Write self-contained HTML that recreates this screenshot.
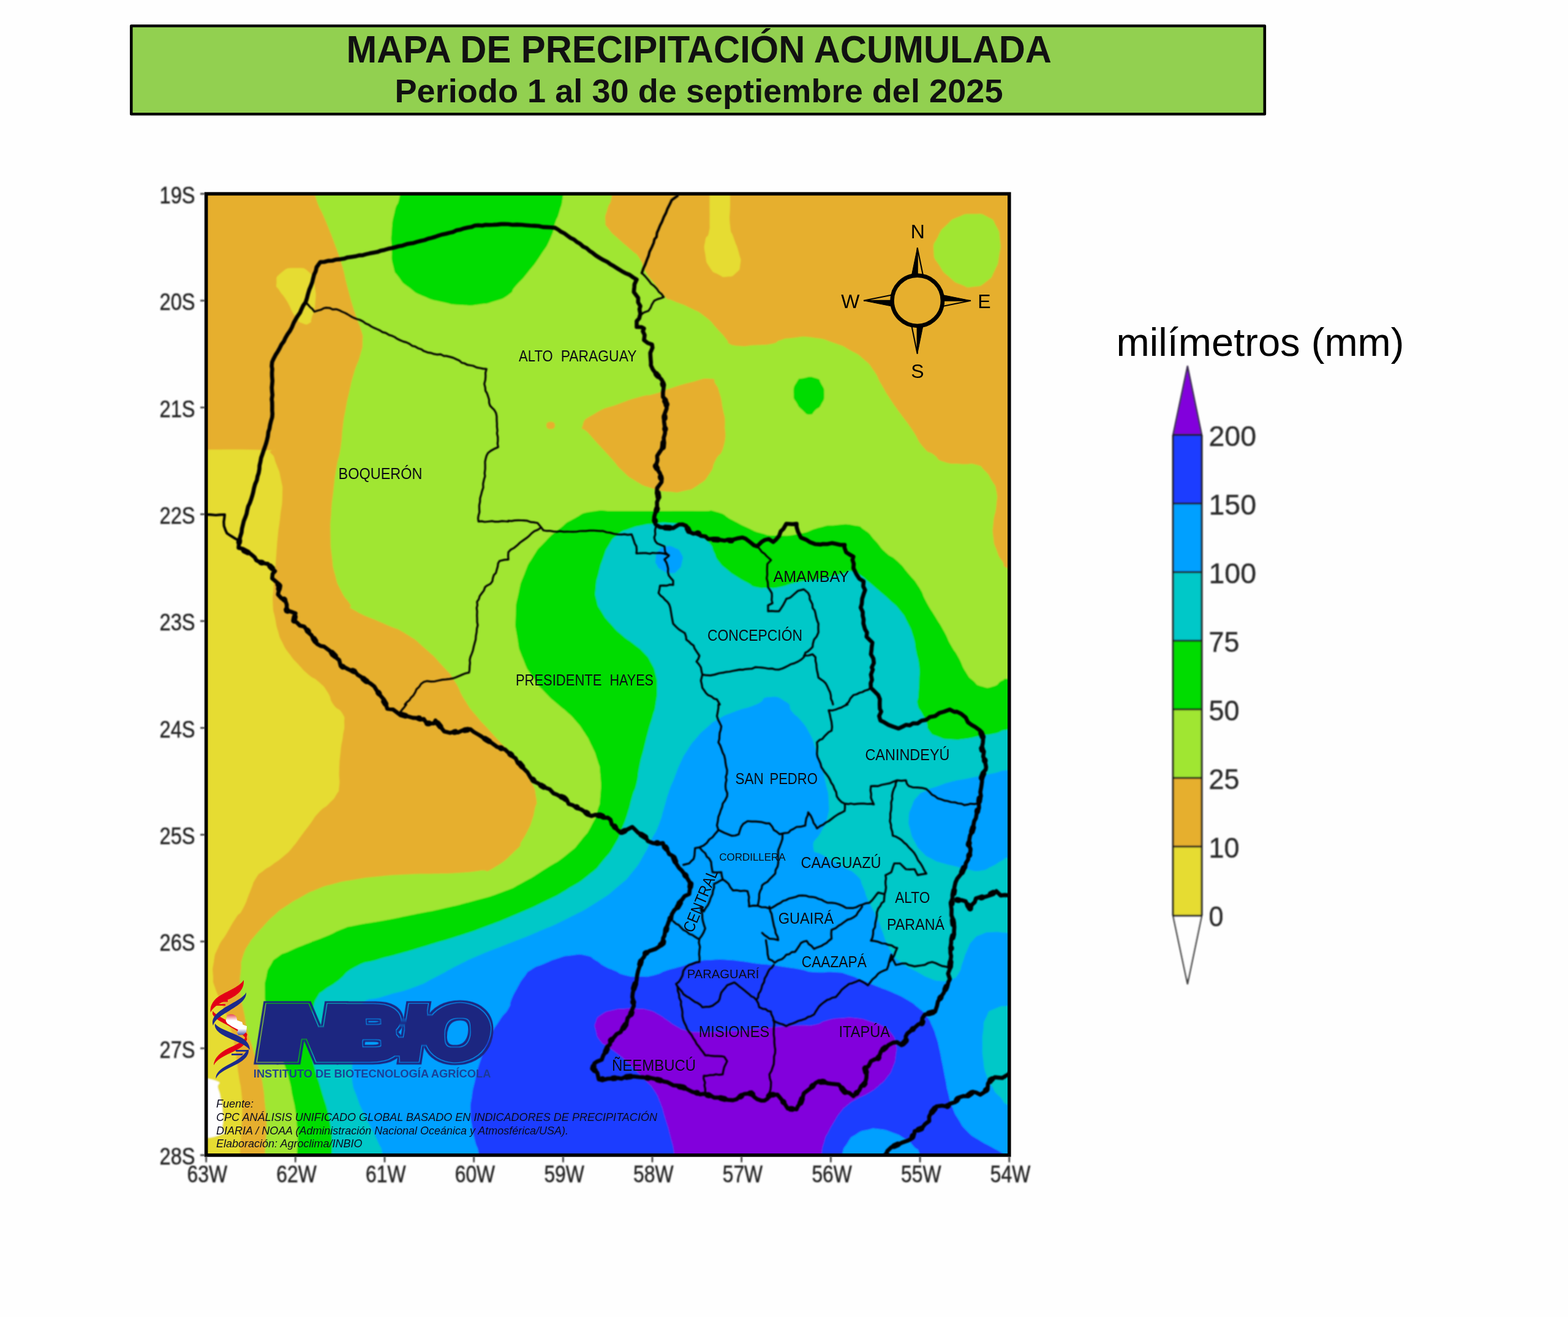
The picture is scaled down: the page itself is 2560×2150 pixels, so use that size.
<!DOCTYPE html>
<html lang="es"><head><meta charset="utf-8"><title>Mapa de precipitación acumulada</title>
<style>html,body{margin:0;padding:0;background:#fefefe}body{width:2560px;height:2150px;overflow:hidden}svg{display:block}text{font-family:"Liberation Sans",Arial,sans-serif}</style></head><body>
<svg width="2560" height="2150" viewBox="0 0 2560 2150">
<defs>
<clipPath id="mc"><rect x="336.6" y="316.4" width="1311.2" height="1569.4"/></clipPath>
<filter id="b1" x="-5%" y="-5%" width="110%" height="110%"><feGaussianBlur stdDeviation="1.1"/></filter>
<filter id="b2" x="-20%" y="-20%" width="140%" height="140%"><feGaussianBlur stdDeviation="0.8"/></filter>
<filter id="b3" x="-20%" y="-20%" width="140%" height="140%"><feGaussianBlur stdDeviation="1.0"/></filter>
<filter id="b4" x="-10%" y="-10%" width="120%" height="120%"><feGaussianBlur stdDeviation="4"/></filter>
<linearGradient id="pyg" x1="0" y1="0" x2="0" y2="1"><stop offset="0" stop-color="#e8464f"/><stop offset="0.3" stop-color="#fff"/><stop offset="0.7" stop-color="#fff"/><stop offset="1" stop-color="#4a55a8"/></linearGradient>
<filter id="lg" x="-5%" y="-15%" width="110%" height="130%"><feMorphology in="SourceAlpha" operator="erode" radius="2.5" result="e1"/><feMorphology in="SourceAlpha" operator="erode" radius="4" result="e2"/><feComposite in="SourceAlpha" in2="e1" operator="out" result="ring"/><feMerge result="shape"><feMergeNode in="ring"/><feMergeNode in="e2"/></feMerge><feFlood flood-color="#1b2580" result="col"/><feComposite in="col" in2="shape" operator="in" result="c2"/><feGaussianBlur in="c2" stdDeviation="0.35"/></filter>
</defs>
<rect width="2560" height="2150" fill="#fefefe"/>
<rect x="214.3" y="42.3" width="1850.5" height="144" fill="#92d050" stroke="#000" stroke-width="4.6" stroke-linejoin="round"/>
<text x="1141.2" y="101.9" font-size="63" font-weight="700" text-anchor="middle" fill="#111" textLength="1151.5" lengthAdjust="spacingAndGlyphs">MAPA DE PRECIPITACIÓN ACUMULADA</text>
<text x="1141" y="167.4" font-size="54.3" font-weight="700" text-anchor="middle" fill="#111" textLength="993" lengthAdjust="spacingAndGlyphs">Periodo 1 al 30 de septiembre del 2025</text>
<g clip-path="url(#mc)">
<g filter="url(#b1)">
<rect x="300" y="280" width="1400" height="1650" fill="#e6af2d"/>
<path fill="#e6dc32" d="M300.0 734.5 C342.2 734.5 379.4 732.8 426.7 734.5 C474.0 736.2 433.7 731.5 441.9 739.5 C450.1 747.5 445.8 744.3 451.4 758.6 C457.0 772.9 455.4 765.7 458.6 782.4 C461.8 799.1 461.4 788.0 461.0 808.6 C460.6 829.2 459.8 822.9 457.4 844.3 C455.0 865.7 455.8 853.9 453.8 872.9 C451.8 891.9 453.0 881.6 451.4 901.4 C449.8 921.2 450.6 913.3 449.0 932.4 C447.4 951.5 447.9 940.4 446.7 958.6 C445.5 976.8 444.7 970.4 445.5 987.1 C446.3 1003.8 446.2 994.3 449.0 1008.6 C451.8 1022.9 449.8 1016.5 453.8 1030.0 C457.8 1043.5 454.6 1036.3 461.0 1049.0 C467.4 1061.7 464.2 1056.2 472.9 1068.1 C481.6 1080.0 476.8 1073.7 487.1 1084.8 C497.4 1095.9 492.7 1091.9 503.8 1101.4 C514.9 1110.9 510.2 1103.8 520.5 1113.3 C530.8 1122.8 526.9 1117.8 534.8 1130.0 C542.7 1142.2 536.4 1138.6 544.3 1150.0 C552.2 1161.4 552.7 1154.0 558.6 1164.3 C564.5 1174.6 561.7 1168.3 562.1 1181.0 C562.5 1193.7 561.8 1187.3 559.8 1202.4 C557.8 1217.5 558.2 1208.0 556.2 1226.2 C554.2 1244.4 554.6 1238.1 553.8 1257.1 C553.0 1276.1 555.4 1269.8 553.8 1283.3 C552.2 1296.8 554.6 1288.1 549.0 1297.6 C543.4 1307.1 546.6 1302.4 537.1 1311.9 C527.6 1321.4 530.8 1315.1 520.5 1326.2 C510.2 1337.3 515.7 1332.5 506.2 1345.2 C496.7 1357.9 501.4 1351.6 491.9 1364.3 C482.4 1377.0 487.1 1372.2 477.6 1383.3 C468.1 1394.4 474.4 1388.1 463.3 1397.6 C452.2 1407.1 455.4 1404.0 444.3 1411.9 C433.2 1419.8 438.7 1414.3 430.0 1421.4 C421.3 1428.5 425.2 1422.2 418.1 1433.3 C411.0 1444.4 415.7 1438.1 408.6 1454.8 C401.5 1471.5 404.6 1468.6 396.7 1483.3 C388.8 1498.0 393.5 1485.8 384.8 1499.0 C376.1 1512.2 380.0 1507.0 370.5 1522.9 C361.0 1538.8 363.4 1530.8 356.2 1546.7 C349.0 1562.6 351.8 1554.6 349.0 1570.5 C346.2 1586.4 347.1 1580.0 347.9 1594.3 C348.7 1608.6 345.5 1595.8 351.4 1613.3 C357.3 1630.8 357.0 1623.7 365.7 1646.7 C374.4 1669.7 371.2 1658.6 377.6 1682.4 C384.0 1706.2 380.8 1694.3 384.8 1718.1 C388.8 1741.9 386.3 1731.6 389.5 1753.8 C392.7 1776.0 392.3 1765.0 394.3 1784.8 C396.3 1804.6 395.5 1795.9 395.5 1813.3 C395.5 1830.7 395.1 1821.2 394.3 1837.1 C393.5 1853.0 393.9 1843.5 393.1 1861.0 C392.3 1878.5 392.3 1866.5 391.9 1889.5 C391.5 1912.5 392.0 1916.5 392.0 1930.0 L300.0 1930.0Z"/>
<path fill="#e6dc32" d="M451.4 462.4 C452.2 452.9 448.3 454.0 458.6 445.7 C468.9 437.4 466.5 437.4 482.4 437.4 C498.3 437.4 495.9 436.6 506.2 445.7 C516.5 454.8 510.5 448.1 513.3 464.8 C516.1 481.5 516.1 477.5 514.5 495.7 C512.9 513.9 511.4 509.2 508.6 519.5 C505.8 529.8 511.0 523.9 506.2 526.7 C501.4 529.5 502.2 531.1 494.3 527.9 C486.4 524.7 491.1 529.4 482.4 517.1 C473.7 504.8 476.8 505.3 468.1 491.0 C459.4 476.7 461.8 483.8 456.2 474.3 C450.6 464.8 450.6 471.9 451.4 462.4Z"/>
<path fill="#e6dc32" d="M1192.0 280.0 C1192.0 296.7 1192.0 301.0 1192.0 330.0 C1192.0 359.0 1189.9 347.6 1191.9 367.1 C1193.9 386.6 1193.1 373.5 1197.9 388.6 C1202.7 403.7 1202.6 398.1 1206.2 412.4 C1209.8 426.7 1210.2 420.3 1208.6 431.4 C1207.0 442.5 1208.6 438.9 1201.4 445.7 C1194.2 452.5 1196.6 450.9 1187.1 451.7 C1177.6 452.5 1182.4 453.3 1172.9 448.1 C1163.4 442.9 1165.8 447.3 1158.6 436.2 C1151.4 425.1 1153.8 429.1 1151.4 414.8 C1149.0 400.5 1149.4 405.2 1151.4 393.3 C1153.4 381.4 1155.0 390.9 1157.4 379.0 C1159.8 367.1 1158.2 373.9 1158.6 357.6 C1159.0 341.3 1158.5 355.9 1158.5 330.0 C1158.5 304.1 1158.5 296.7 1158.5 280.0Z"/>
<path fill="#a0e632" d="M506.5 280.0 C509.2 293.2 505.9 292.0 514.5 319.5 C523.1 347.0 520.9 333.8 532.4 362.4 C543.9 391.0 540.3 381.4 549.0 405.2 C557.7 429.0 552.2 411.6 558.6 433.8 C565.0 456.0 561.0 445.7 568.1 471.9 C575.2 498.1 572.9 490.2 580.0 512.4 C587.1 534.6 585.5 523.5 589.5 538.6 C593.5 553.7 592.3 544.1 591.9 557.6 C591.5 571.1 593.1 561.5 588.3 579.0 C583.5 596.5 583.5 590.1 577.6 610.0 C571.7 629.9 574.9 619.6 570.5 638.6 C566.1 657.6 568.1 648.1 564.5 667.1 C560.9 686.1 562.6 674.7 559.8 695.7 C557.0 716.7 559.8 706.7 556.2 730.0 C552.6 753.3 553.0 741.9 549.0 765.7 C545.0 789.5 547.1 777.6 544.3 801.4 C541.5 825.2 542.3 813.3 540.7 837.1 C539.1 860.9 539.1 849.1 539.5 872.9 C539.9 896.7 539.5 887.2 541.9 908.6 C544.3 930.0 541.9 918.9 546.7 937.1 C551.5 955.3 548.3 947.4 556.2 963.3 C564.1 979.2 562.6 973.5 570.5 984.8 C578.4 996.1 561.0 985.8 580.0 997.1 C599.0 1008.4 599.8 1005.9 627.6 1018.6 C655.4 1031.3 641.1 1021.7 663.3 1035.2 C685.5 1048.7 674.4 1041.5 694.3 1059.0 C714.2 1076.5 707.0 1070.1 722.9 1087.6 C738.8 1105.1 730.0 1093.1 741.9 1111.4 C753.8 1129.7 746.7 1123.3 758.6 1142.4 C770.5 1161.5 764.1 1151.9 777.6 1168.6 C791.1 1185.3 783.1 1174.9 799.0 1192.4 C814.9 1209.9 809.3 1203.5 825.2 1221.0 C841.1 1238.5 833.2 1227.4 846.7 1244.8 C860.2 1262.2 856.2 1254.3 865.7 1273.3 C875.2 1292.3 872.8 1285.9 875.2 1301.9 C877.6 1317.9 875.3 1308.5 872.9 1321.4 C870.5 1334.3 872.1 1328.6 868.1 1340.5 C864.1 1352.4 866.6 1346.0 861.0 1357.1 C855.4 1368.2 857.8 1363.5 851.4 1373.8 C845.0 1384.1 857.0 1373.8 841.9 1388.1 C826.8 1402.4 826.0 1405.6 806.2 1416.7 C786.4 1427.8 802.2 1418.6 782.4 1421.4 C762.6 1424.2 770.5 1423.4 746.7 1425.0 C722.9 1426.6 738.8 1425.4 711.0 1426.2 C683.2 1427.0 695.1 1425.8 663.3 1427.4 C631.5 1429.0 643.5 1428.2 615.7 1431.0 C587.9 1433.8 603.8 1431.7 580.0 1435.7 C556.2 1439.7 565.7 1437.3 544.3 1442.9 C522.9 1448.5 533.2 1445.3 515.7 1452.4 C498.2 1459.5 507.8 1455.6 491.9 1464.3 C476.0 1473.0 482.4 1469.1 468.1 1478.6 C453.8 1488.1 461.7 1481.8 449.0 1492.9 C436.3 1504.0 441.9 1499.2 430.0 1511.9 C418.1 1524.6 420.4 1522.6 413.3 1531.0 C406.2 1539.4 414.1 1527.1 408.6 1537.1 C403.1 1547.1 401.9 1545.1 396.7 1561.0 C391.5 1576.9 394.7 1568.9 393.1 1584.8 C391.5 1600.7 391.5 1592.7 391.9 1608.6 C392.3 1624.5 391.9 1616.5 394.3 1632.4 C396.7 1648.3 395.8 1639.5 399.0 1656.2 C402.2 1672.9 399.8 1665.7 403.8 1682.4 C407.8 1699.1 406.2 1690.3 411.0 1706.2 C415.8 1722.1 413.4 1714.1 418.1 1730.0 C422.8 1745.9 421.2 1737.9 425.2 1753.8 C429.2 1769.7 427.6 1761.7 430.0 1777.6 C432.4 1793.5 430.8 1785.5 432.4 1801.4 C434.0 1817.3 434.0 1809.3 434.8 1825.2 C435.6 1841.1 435.6 1827.6 434.8 1849.0 C434.0 1870.4 433.3 1862.5 432.4 1889.5 C431.5 1916.5 432.1 1916.5 432.0 1930.0 L1700 1930 L1700.0 945.0 C1683.5 940.0 1671.8 939.8 1650.5 930.0 C1629.2 920.2 1644.1 926.8 1636.2 915.7 C1628.3 904.6 1631.5 909.4 1626.7 896.7 C1621.9 884.0 1623.5 891.9 1621.9 877.6 C1620.3 863.3 1620.3 871.3 1621.9 853.8 C1623.5 836.3 1625.1 842.7 1626.7 825.2 C1628.3 807.7 1629.1 814.9 1626.7 801.4 C1624.3 787.9 1625.9 795.9 1619.5 784.8 C1613.1 773.7 1616.3 776.8 1607.6 768.1 C1598.9 759.4 1606.0 762.2 1593.3 758.6 C1580.6 755.0 1586.9 759.0 1569.5 757.4 C1552.1 755.8 1556.1 759.0 1541.0 753.8 C1525.9 748.6 1535.4 749.8 1524.3 741.9 C1513.2 734.0 1519.5 743.8 1507.6 730.0 C1495.7 716.2 1501.3 719.1 1488.6 700.5 C1475.9 681.9 1481.4 691.0 1469.5 674.3 C1457.6 657.6 1463.2 666.4 1452.9 650.5 C1442.6 634.6 1447.3 641.8 1438.6 626.7 C1429.9 611.6 1436.2 618.7 1426.7 605.2 C1417.2 591.7 1422.7 597.3 1410.0 586.2 C1397.3 575.1 1404.5 580.6 1388.6 571.9 C1372.7 563.2 1383.0 567.0 1362.4 560.0 C1341.8 553.0 1349.7 553.8 1326.7 551.0 C1303.7 548.2 1310.8 550.3 1293.3 551.7 C1275.8 553.1 1285.4 552.0 1274.3 555.2 C1263.2 558.4 1274.3 558.4 1260.0 561.2 C1245.7 564.0 1248.9 562.4 1231.4 563.6 C1213.9 564.8 1221.9 566.0 1207.6 564.8 C1193.3 563.6 1195.4 563.2 1188.6 560.0 C1181.8 556.8 1193.1 563.1 1187.1 555.2 C1181.1 547.3 1182.4 548.9 1170.5 536.2 C1158.6 523.5 1165.7 528.2 1151.4 517.1 C1137.1 506.0 1145.1 511.6 1127.6 502.9 C1110.1 494.2 1113.3 497.4 1099.0 491.0 C1084.7 484.6 1095.1 493.3 1084.8 483.8 C1074.5 474.3 1078.4 475.9 1068.1 462.4 C1057.8 448.9 1061.7 456.8 1053.8 443.3 C1045.9 429.8 1052.2 433.8 1044.3 421.9 C1036.4 410.0 1041.1 417.9 1030.0 407.6 C1018.9 397.3 1022.9 402.1 1011.0 391.0 C999.1 379.9 1001.9 384.6 994.3 374.3 C986.7 364.0 989.1 371.1 988.3 360.0 C987.5 348.9 988.3 354.5 991.9 341.0 C995.5 327.5 995.6 339.8 999.0 319.5 C1002.4 299.2 1001.0 293.2 1002.0 280.0Z"/>
<path fill="#a0e632" d="M1524.3 410.0 C1523.5 394.1 1524.3 400.5 1531.4 386.2 C1538.5 371.9 1534.6 377.8 1545.7 367.1 C1556.8 356.4 1550.5 359.9 1564.8 354.0 C1579.1 348.1 1572.7 349.3 1588.6 349.3 C1604.5 349.3 1599.7 347.3 1612.4 354.0 C1625.1 360.7 1620.0 357.2 1626.7 369.5 C1633.4 381.8 1631.0 375.1 1632.6 391.0 C1634.2 406.9 1634.2 400.4 1631.4 417.1 C1628.6 433.8 1631.4 426.7 1624.3 441.0 C1617.2 455.3 1621.9 450.9 1610.0 460.0 C1598.1 469.1 1602.1 466.7 1588.6 468.3 C1575.1 469.9 1582.2 469.9 1569.5 464.8 C1556.8 459.7 1562.4 463.2 1550.5 452.9 C1538.6 442.6 1542.5 448.1 1533.8 433.8 C1525.1 419.5 1525.1 425.9 1524.3 410.0Z"/>
<path fill="#e6af2d" d="M963.3 710.0 C948.2 692.6 948.2 706.4 951.4 694.5 C954.6 682.6 953.8 685.8 972.9 674.3 C992.0 662.8 984.8 668.7 1008.6 660.0 C1032.4 651.3 1024.5 653.7 1044.3 648.1 C1064.1 642.5 1052.2 647.7 1068.1 643.3 C1084.0 638.9 1072.1 641.3 1091.9 635.0 C1111.7 628.7 1105.4 629.9 1127.6 624.3 C1149.8 618.7 1145.1 617.5 1158.6 618.3 C1172.1 619.1 1162.6 618.4 1168.1 626.7 C1173.6 635.0 1171.2 629.8 1175.2 643.3 C1179.2 656.8 1177.2 651.2 1180.0 667.1 C1182.8 683.0 1183.6 675.1 1183.6 691.0 C1183.6 706.9 1180.0 711.8 1180.0 714.8 C1180.0 717.8 1183.3 694.9 1183.6 700.0 C1183.9 705.1 1186.2 712.9 1181.0 730.0 C1175.8 747.1 1175.6 737.1 1168.1 751.4 C1160.6 765.7 1168.1 759.4 1158.6 772.9 C1149.1 786.4 1153.8 782.4 1139.5 791.9 C1125.2 801.4 1131.6 797.8 1115.7 801.4 C1099.8 805.0 1109.4 804.2 1091.9 802.6 C1074.4 801.0 1081.6 802.6 1063.3 796.7 C1045.0 790.8 1053.0 794.3 1037.1 784.8 C1021.2 775.3 1029.2 780.8 1015.7 768.1 C1002.2 755.4 1014.2 766.1 996.7 746.7 C979.2 727.3 978.4 727.4 963.3 710.0Z"/>
<path fill="#e6af2d" d="M892.0 694.5 C892.0 690.5 894.3 688.5 899.0 688.5 C903.7 688.5 906.0 690.5 906.0 694.5 C906.0 698.5 903.7 700.5 899.0 700.5 C894.3 700.5 892.0 698.5 892.0 694.5Z"/>
<path fill="#00dc00" d="M656.6 280.0 C655.3 293.2 656.7 297.6 652.6 319.5 C648.5 341.4 648.7 326.6 644.3 345.7 C639.9 364.8 641.1 356.9 639.5 376.7 C637.9 396.5 638.7 386.2 639.5 405.2 C640.3 424.2 637.9 417.9 641.9 433.8 C645.9 449.7 642.7 441.0 651.4 452.9 C660.1 464.8 654.6 459.2 668.1 469.5 C681.6 479.8 673.6 475.9 691.9 483.8 C710.2 491.7 702.3 488.5 722.9 493.3 C743.5 498.1 734.0 496.9 753.8 498.1 C773.6 499.3 764.9 498.9 782.4 496.9 C799.9 494.9 790.3 497.3 806.2 492.1 C822.1 486.9 818.1 489.7 830.0 481.4 C841.9 473.1 831.6 479.0 841.9 467.1 C852.2 455.2 847.5 462.4 861.0 445.7 C874.5 429.0 869.7 436.1 882.4 417.1 C895.1 398.1 891.1 406.0 899.0 388.6 C906.9 371.2 901.4 379.1 906.2 364.8 C911.0 350.5 908.9 360.8 913.3 345.7 C917.7 330.6 916.0 341.4 919.3 319.5 C922.6 297.6 922.0 293.2 923.3 280.0Z"/>
<path fill="#00dc00" d="M1295.7 643.3 C1295.7 632.2 1294.9 633.0 1300.5 624.3 C1306.1 615.6 1302.1 619.5 1312.4 617.1 C1322.7 614.7 1321.9 613.9 1331.4 617.1 C1340.9 620.3 1336.2 618.0 1341.0 626.7 C1345.8 635.4 1345.7 632.2 1345.7 643.3 C1345.7 654.4 1345.8 651.3 1341.0 660.0 C1336.2 668.7 1337.8 663.9 1331.4 669.5 C1325.0 675.1 1329.0 676.7 1321.9 676.7 C1314.8 676.7 1317.1 675.9 1310.0 669.5 C1302.9 663.1 1305.3 666.3 1300.5 657.6 C1295.7 648.9 1295.7 654.4 1295.7 643.3Z"/>
<path fill="#00dc00" d="M485.0 1930.0 C484.9 1916.5 484.5 1912.5 484.8 1889.5 C485.1 1866.5 486.0 1878.5 486.0 1861.0 C486.0 1843.5 486.0 1853.0 484.8 1837.1 C483.6 1821.2 484.8 1829.2 482.4 1813.3 C480.0 1797.4 480.8 1805.4 477.6 1789.5 C474.4 1773.6 476.9 1781.6 472.9 1765.7 C468.9 1749.8 471.3 1757.8 465.7 1741.9 C460.1 1726.0 462.5 1734.0 456.2 1718.1 C449.9 1702.2 452.3 1710.2 446.7 1694.3 C441.1 1678.4 443.5 1686.4 439.5 1670.5 C435.5 1654.6 437.2 1664.2 434.8 1646.7 C432.4 1629.2 432.4 1635.6 432.4 1618.1 C432.4 1600.6 431.6 1608.6 434.8 1594.3 C438.0 1580.0 435.6 1586.0 441.9 1575.2 C448.2 1564.4 443.5 1569.5 453.8 1561.9 C464.1 1554.3 457.0 1559.5 472.9 1552.4 C488.8 1545.3 481.6 1548.4 501.4 1540.5 C521.2 1532.6 513.3 1536.5 532.4 1528.6 C551.5 1520.7 542.7 1522.7 558.6 1516.7 C574.5 1510.7 557.0 1515.5 580.0 1510.7 C603.0 1505.9 595.9 1508.3 627.6 1502.4 C659.3 1496.5 643.4 1499.3 675.2 1492.9 C707.0 1486.5 691.1 1490.5 722.9 1483.3 C754.7 1476.1 738.8 1480.2 770.5 1471.4 C802.2 1462.6 790.2 1467.3 818.0 1457.0 C845.8 1446.7 830.0 1453.2 853.8 1440.5 C877.6 1427.8 865.7 1434.1 889.5 1419.0 C913.3 1403.9 905.4 1411.1 925.2 1395.2 C945.0 1379.3 935.5 1387.3 949.0 1371.4 C962.5 1355.5 957.0 1363.5 965.7 1347.6 C974.4 1331.7 970.4 1339.7 975.2 1323.8 C980.0 1307.9 978.4 1319.8 980.0 1300.0 C981.6 1280.2 981.6 1284.1 980.0 1264.3 C978.4 1244.5 980.0 1256.4 975.2 1240.5 C970.4 1224.6 972.8 1231.8 965.7 1216.7 C958.6 1201.6 962.5 1208.7 953.8 1195.2 C945.1 1181.7 949.0 1187.3 939.5 1176.2 C930.0 1165.1 934.7 1170.6 925.2 1161.9 C915.7 1153.2 922.9 1160.6 911.0 1150.0 C899.1 1139.4 903.0 1144.6 889.5 1130.0 C876.0 1115.4 882.4 1124.5 870.5 1106.2 C858.6 1087.9 862.5 1097.4 853.8 1075.2 C845.1 1053.0 848.3 1063.3 844.3 1039.5 C840.3 1015.7 841.1 1027.6 841.9 1003.8 C842.7 980.0 841.9 990.3 846.7 968.1 C851.5 945.9 848.3 956.9 856.2 937.1 C864.1 917.3 859.4 926.0 870.5 908.6 C881.6 891.2 875.2 899.9 889.5 884.8 C903.8 869.7 897.4 876.0 913.3 863.3 C929.2 850.6 918.8 856.2 937.1 846.7 C955.4 837.2 944.3 838.9 968.1 834.8 C991.9 830.7 975.3 834.5 1008.6 834.3 C1041.9 834.1 1024.5 834.3 1068.1 834.3 C1111.7 834.3 1105.5 833.8 1139.5 834.3 C1173.5 834.8 1151.3 830.8 1170.0 835.7 C1188.7 840.6 1179.2 840.6 1195.7 849.0 C1212.2 857.4 1203.6 853.8 1219.5 861.0 C1235.4 868.2 1227.4 866.2 1243.3 870.5 C1259.2 874.8 1247.2 873.6 1267.1 874.0 C1287.0 874.4 1279.1 876.0 1302.9 871.7 C1326.7 867.4 1318.8 865.8 1338.6 861.0 C1358.4 856.2 1344.2 858.6 1362.4 857.4 C1380.6 856.2 1376.6 854.6 1393.3 857.4 C1410.0 860.2 1400.5 857.4 1412.4 865.7 C1424.3 874.0 1417.9 870.5 1429.0 882.4 C1440.1 894.3 1433.8 890.3 1445.7 901.4 C1457.6 912.5 1452.1 903.8 1464.8 915.7 C1477.5 927.6 1471.9 922.8 1483.8 937.1 C1495.7 951.4 1491.0 943.5 1500.5 958.6 C1510.0 973.7 1503.7 966.5 1512.4 982.4 C1521.1 998.3 1517.2 990.3 1526.7 1006.2 C1536.2 1022.1 1532.3 1014.1 1541.0 1030.0 C1549.7 1045.9 1545.0 1039.5 1552.9 1053.8 C1560.8 1068.1 1556.9 1058.6 1564.8 1072.9 C1572.7 1087.2 1568.8 1084.0 1576.7 1096.7 C1584.6 1109.4 1579.9 1103.1 1588.6 1111.0 C1597.3 1118.9 1591.8 1117.3 1602.9 1120.5 C1614.0 1123.7 1610.8 1123.7 1621.9 1120.5 C1633.0 1117.3 1626.7 1115.4 1636.2 1111.0 C1645.7 1106.6 1629.2 1109.4 1650.5 1107.4 C1671.8 1105.4 1683.5 1105.8 1700.0 1105.0 L1700.0 1930.0Z"/>
<path fill="#00c8c8" d="M542.0 1930.0 C542.0 1916.5 541.9 1912.5 541.9 1889.5 C541.9 1866.5 542.7 1878.5 541.9 1861.0 C541.1 1843.5 541.9 1853.0 539.5 1837.1 C537.1 1821.2 538.8 1829.2 534.8 1813.3 C530.8 1797.4 532.4 1805.4 527.6 1789.5 C522.8 1773.6 525.3 1781.6 520.5 1765.7 C515.7 1749.8 517.3 1757.8 513.3 1741.9 C509.3 1726.0 511.0 1734.0 508.6 1718.1 C506.2 1702.2 507.0 1710.2 506.2 1694.3 C505.4 1678.4 504.6 1686.4 506.2 1670.5 C507.8 1654.6 507.0 1661.0 511.0 1646.7 C515.0 1632.4 511.8 1637.9 518.1 1627.6 C524.4 1617.3 518.9 1624.4 530.0 1615.7 C541.1 1607.0 534.7 1613.8 551.4 1601.4 C568.1 1589.0 558.6 1590.2 580.0 1578.6 C601.4 1567.0 591.9 1573.9 615.7 1566.7 C639.5 1559.5 623.6 1564.9 651.4 1557.0 C679.2 1549.1 667.2 1552.4 699.0 1542.9 C730.8 1533.4 714.9 1538.9 746.7 1528.6 C778.5 1518.3 762.5 1523.9 794.3 1512.0 C826.1 1500.1 810.3 1506.4 842.0 1492.9 C873.7 1479.4 861.8 1484.9 889.5 1471.4 C917.2 1457.9 901.4 1466.7 925.2 1452.4 C949.0 1438.1 941.1 1444.5 961.0 1428.6 C980.9 1412.7 970.5 1421.5 984.8 1404.8 C999.1 1388.1 993.5 1396.1 1003.8 1378.6 C1014.1 1361.1 1008.6 1369.9 1015.7 1352.4 C1022.8 1334.9 1019.6 1343.7 1025.2 1326.2 C1030.8 1308.7 1027.6 1315.9 1032.4 1300.0 C1037.2 1284.1 1035.5 1295.3 1039.5 1278.6 C1043.5 1261.9 1040.3 1269.1 1044.3 1250.0 C1048.3 1230.9 1046.6 1240.4 1051.4 1221.4 C1056.2 1202.4 1053.8 1210.4 1058.6 1192.9 C1063.4 1175.4 1061.7 1183.3 1065.7 1169.0 C1069.7 1154.7 1068.1 1165.4 1070.5 1150.0 C1072.9 1134.6 1072.9 1139.1 1072.9 1122.9 C1072.9 1106.7 1073.7 1114.9 1070.5 1101.4 C1067.3 1087.9 1069.7 1094.3 1063.3 1082.4 C1056.9 1070.5 1060.9 1076.0 1051.4 1065.7 C1041.9 1055.4 1046.7 1060.9 1034.8 1051.4 C1022.9 1041.9 1028.4 1048.2 1015.7 1037.1 C1003.0 1026.0 1007.8 1030.8 996.7 1018.1 C985.6 1005.4 990.0 1011.7 982.4 999.0 C974.8 986.3 977.2 993.5 974.0 980.0 C970.8 966.5 971.7 973.7 972.9 958.6 C974.1 943.5 973.6 950.7 977.6 934.8 C981.6 918.9 979.2 926.1 984.8 911.0 C990.4 895.9 986.4 902.2 994.3 889.5 C1002.2 876.8 997.5 881.6 1008.6 872.9 C1019.7 864.2 1014.1 868.5 1027.6 863.3 C1041.1 858.1 1035.5 860.2 1049.0 857.4 C1062.5 854.6 1053.8 856.2 1068.1 855.0 C1082.4 853.8 1076.0 852.6 1091.9 853.8 C1107.8 855.0 1103.0 853.8 1115.7 858.6 C1128.4 863.4 1120.5 862.6 1130.0 868.1 C1139.5 873.6 1134.8 868.9 1144.3 875.2 C1153.8 881.5 1151.5 878.4 1158.6 887.1 C1165.7 895.8 1160.9 891.9 1165.7 901.4 C1170.5 910.9 1165.8 906.2 1172.9 915.7 C1180.0 925.2 1176.8 921.3 1187.1 930.0 C1197.4 938.7 1192.7 934.8 1203.8 941.9 C1214.9 949.0 1210.2 945.8 1220.5 951.4 C1230.8 957.0 1223.7 955.8 1234.8 958.6 C1245.9 961.4 1241.1 959.8 1253.8 959.8 C1266.5 959.8 1256.5 961.8 1272.9 958.6 C1289.3 955.4 1281.0 954.6 1302.9 950.2 C1324.8 945.8 1314.8 949.9 1338.6 945.5 C1362.4 941.1 1356.8 941.5 1374.3 937.1 C1391.8 932.7 1380.7 931.6 1391.0 932.4 C1401.3 933.2 1396.5 934.0 1405.2 939.5 C1413.9 945.0 1407.6 941.1 1417.1 949.0 C1426.6 956.9 1421.9 953.0 1433.8 963.3 C1445.7 973.6 1441.0 968.9 1452.9 980.0 C1464.8 991.1 1460.0 984.8 1469.5 996.7 C1479.0 1008.6 1474.2 1001.4 1481.4 1015.7 C1488.6 1030.0 1486.2 1023.6 1491.0 1039.5 C1495.8 1055.4 1492.5 1047.4 1495.7 1063.3 C1498.9 1079.2 1498.9 1071.2 1500.5 1087.1 C1502.1 1103.0 1500.9 1095.1 1500.5 1111.0 C1500.1 1126.9 1500.1 1121.8 1499.3 1134.8 C1498.5 1147.8 1496.1 1140.2 1498.1 1150.0 C1500.1 1159.8 1500.4 1154.8 1505.2 1164.3 C1510.0 1173.8 1508.4 1169.1 1512.4 1178.6 C1516.4 1188.1 1510.8 1185.0 1517.1 1192.9 C1523.4 1200.8 1519.5 1197.7 1531.4 1202.4 C1543.3 1207.1 1537.8 1205.9 1552.9 1207.1 C1568.0 1208.3 1560.8 1208.0 1576.7 1206.0 C1592.6 1204.0 1584.6 1204.0 1600.5 1201.2 C1616.4 1198.4 1607.6 1201.2 1624.3 1197.6 C1641.0 1194.0 1625.3 1193.0 1650.5 1190.5 C1675.7 1188.0 1683.5 1190.2 1700.0 1190.0 L1700.0 1930.0Z"/>
<path fill="#00a0ff" d="M625.0 1930.0 C625.1 1916.5 628.3 1912.5 625.2 1889.5 C622.1 1866.5 622.8 1878.5 615.7 1861.0 C608.6 1843.5 611.7 1853.0 603.8 1837.1 C595.9 1821.2 599.0 1829.2 591.9 1813.3 C584.8 1797.4 588.0 1805.4 582.4 1789.5 C576.8 1773.6 577.6 1781.6 575.2 1765.7 C572.8 1749.8 575.2 1757.8 575.2 1741.9 C575.2 1726.0 574.4 1734.0 575.2 1718.1 C576.0 1702.2 575.2 1710.2 577.6 1694.3 C580.0 1678.4 578.3 1688.6 582.4 1670.5 C586.5 1652.4 574.9 1654.8 590.0 1640.0 C605.1 1625.2 599.2 1635.6 627.6 1626.2 C656.0 1616.8 647.4 1622.2 675.2 1611.9 C703.0 1601.6 687.2 1607.1 711.0 1595.2 C734.8 1583.3 722.9 1588.1 746.7 1576.2 C770.5 1564.3 754.6 1571.4 782.4 1559.5 C810.2 1547.6 798.3 1553.2 830.0 1540.5 C861.7 1527.8 845.9 1534.9 877.6 1521.4 C909.3 1507.9 893.4 1515.9 925.2 1500.0 C957.0 1484.1 945.1 1491.3 972.9 1473.8 C1000.7 1456.3 988.8 1464.3 1008.6 1447.6 C1028.4 1430.9 1018.1 1441.3 1032.4 1423.8 C1046.7 1406.3 1041.1 1412.7 1051.4 1395.2 C1061.7 1377.7 1055.4 1387.3 1063.3 1371.4 C1071.2 1355.5 1068.0 1365.8 1075.2 1347.6 C1082.4 1329.4 1079.2 1334.9 1084.8 1316.7 C1090.4 1298.5 1086.4 1308.8 1091.9 1292.9 C1097.4 1277.0 1095.0 1284.9 1101.4 1269.0 C1107.8 1253.1 1103.8 1260.3 1111.0 1245.2 C1118.2 1230.1 1114.2 1237.3 1122.9 1223.8 C1131.6 1210.3 1126.8 1216.7 1137.1 1204.8 C1147.4 1192.9 1141.9 1198.4 1153.8 1188.1 C1165.7 1177.8 1157.8 1182.5 1172.9 1173.8 C1188.0 1165.1 1178.4 1169.8 1199.0 1161.9 C1219.6 1154.0 1216.1 1157.9 1234.8 1150.0 C1253.5 1142.1 1239.1 1139.7 1255.0 1138.1 C1270.9 1136.5 1269.6 1137.3 1282.4 1145.2 C1295.2 1153.1 1284.9 1151.6 1293.3 1161.9 C1301.7 1172.2 1298.1 1164.3 1307.6 1176.2 C1317.1 1188.1 1314.0 1182.5 1321.9 1197.6 C1329.8 1212.7 1325.0 1203.9 1331.4 1221.4 C1337.8 1238.9 1335.4 1230.9 1341.0 1250.0 C1346.6 1269.1 1344.1 1259.6 1348.1 1278.6 C1352.1 1297.6 1352.1 1288.1 1352.9 1307.1 C1353.7 1326.1 1354.5 1319.0 1350.5 1335.7 C1346.5 1352.4 1348.5 1341.2 1341.0 1357.1 C1333.5 1373.0 1326.3 1369.8 1327.9 1383.3 C1329.5 1396.8 1330.2 1387.3 1345.7 1397.6 C1361.2 1407.9 1356.8 1404.0 1374.3 1414.3 C1391.8 1424.6 1386.6 1417.5 1398.1 1428.6 C1409.6 1439.7 1402.8 1434.9 1408.8 1447.6 C1414.8 1460.3 1410.8 1454.8 1416.0 1466.7 C1421.2 1478.6 1418.4 1471.4 1424.3 1483.3 C1430.2 1495.2 1428.2 1489.7 1433.8 1502.4 C1439.4 1515.1 1436.2 1508.7 1441.0 1521.4 C1445.8 1534.1 1442.6 1528.6 1448.1 1540.5 C1453.6 1552.4 1450.5 1547.3 1457.6 1557.1 C1464.7 1566.9 1456.0 1560.0 1469.5 1570.0 C1483.0 1580.0 1482.2 1578.2 1498.1 1587.1 C1514.0 1596.0 1504.4 1591.9 1517.1 1596.7 C1529.8 1601.5 1524.3 1600.6 1536.2 1601.4 C1548.1 1602.2 1543.4 1603.0 1552.9 1599.0 C1562.4 1595.0 1558.5 1599.0 1564.8 1589.5 C1571.1 1580.0 1567.2 1583.2 1571.9 1570.5 C1576.6 1557.8 1573.4 1563.3 1579.0 1551.4 C1584.6 1539.5 1580.6 1543.5 1588.6 1534.8 C1596.6 1526.1 1591.8 1529.6 1602.9 1525.2 C1614.0 1520.8 1606.0 1522.5 1621.9 1521.7 C1637.8 1520.9 1624.5 1522.5 1650.5 1522.9 C1676.5 1523.3 1683.5 1523.0 1700.0 1523.0 L1700.0 1930.0Z"/>
<path fill="#00a0ff" d="M1700.0 1257.1 C1683.5 1257.1 1675.7 1255.5 1650.5 1257.1 C1625.3 1258.7 1641.0 1258.7 1624.3 1261.9 C1607.6 1265.1 1616.4 1263.5 1600.5 1266.7 C1584.6 1269.9 1592.6 1268.2 1576.7 1271.4 C1560.8 1274.6 1568.0 1272.2 1552.9 1276.2 C1537.8 1280.2 1544.9 1278.5 1531.4 1283.3 C1517.9 1288.1 1523.5 1284.9 1512.4 1290.5 C1501.3 1296.1 1506.0 1291.3 1498.1 1300.0 C1490.2 1308.7 1493.4 1304.8 1488.6 1316.7 C1483.8 1328.6 1484.6 1323.0 1483.8 1335.7 C1483.0 1348.4 1483.0 1342.1 1486.2 1354.8 C1489.4 1367.5 1487.0 1361.9 1493.3 1373.8 C1499.6 1385.7 1495.7 1381.0 1505.2 1390.5 C1514.7 1400.0 1510.0 1396.1 1521.9 1402.4 C1533.8 1408.7 1528.3 1405.5 1541.0 1409.5 C1553.7 1413.5 1547.3 1411.1 1560.0 1414.3 C1572.7 1417.5 1565.5 1416.6 1579.0 1419.0 C1592.5 1421.4 1587.0 1423.0 1600.5 1421.4 C1614.0 1419.8 1607.6 1419.8 1619.5 1414.3 C1631.4 1408.8 1625.9 1409.6 1636.2 1404.8 C1646.5 1400.0 1629.2 1401.6 1650.5 1400.0 C1671.8 1398.4 1683.5 1400.0 1700.0 1400.0Z"/>
<path fill="#00a0ff" d="M1070.5 913.3 C1071.3 905.3 1069.7 906.0 1075.2 899.0 C1080.7 892.0 1078.4 894.0 1087.1 892.4 C1095.8 890.8 1093.1 890.5 1101.4 894.3 C1109.7 898.1 1108.1 895.9 1112.1 903.8 C1116.1 911.7 1115.3 909.0 1113.3 918.1 C1111.3 927.2 1112.5 925.5 1106.2 931.2 C1099.9 936.9 1103.0 935.6 1094.3 935.2 C1085.6 934.8 1087.1 934.1 1080.0 930.0 C1072.9 925.9 1076.1 928.5 1072.9 922.9 C1069.7 917.3 1069.7 921.3 1070.5 913.3Z"/>
<path fill="#00c8c8" d="M1700.0 1641.9 C1685.1 1641.9 1680.4 1640.3 1655.2 1641.9 C1630.0 1643.5 1639.4 1640.3 1624.3 1646.7 C1609.2 1653.1 1616.4 1649.1 1610.0 1661.0 C1603.6 1672.9 1607.2 1667.3 1605.2 1682.4 C1603.2 1697.5 1604.0 1690.3 1604.0 1706.2 C1604.0 1722.1 1603.2 1714.1 1605.2 1730.0 C1607.2 1745.9 1605.2 1739.5 1610.0 1753.8 C1614.8 1768.1 1612.4 1761.0 1619.5 1772.9 C1626.6 1784.8 1619.5 1778.4 1631.4 1789.5 C1643.3 1800.6 1632.3 1800.6 1655.2 1806.2 C1678.1 1811.8 1685.1 1806.2 1700.0 1806.2Z"/>
<path fill="#1e3cff" d="M783.0 1930.0 C782.8 1916.5 785.0 1912.5 782.4 1889.5 C779.8 1866.5 779.2 1878.5 775.2 1861.0 C771.2 1843.5 772.9 1853.0 770.5 1837.1 C768.1 1821.2 768.1 1829.2 768.1 1813.3 C768.1 1797.4 768.1 1805.4 770.5 1789.5 C772.9 1773.6 770.4 1785.5 775.2 1765.7 C780.0 1745.9 776.9 1753.8 784.8 1730.0 C792.7 1706.2 788.7 1715.7 799.0 1694.3 C809.3 1672.9 805.4 1681.6 815.7 1665.7 C826.0 1649.8 823.6 1657.8 830.0 1646.7 C836.4 1635.6 830.0 1643.5 834.8 1632.4 C839.6 1621.3 837.2 1626.0 844.3 1613.3 C851.4 1600.6 848.3 1604.6 856.2 1594.3 C864.1 1584.0 857.0 1589.5 868.1 1582.4 C879.2 1575.3 875.2 1578.9 889.5 1572.9 C903.8 1566.9 896.7 1568.9 911.0 1564.5 C925.3 1560.1 917.3 1561.4 932.4 1559.8 C947.5 1558.2 942.7 1557.0 956.2 1559.8 C969.7 1562.6 962.6 1562.2 972.9 1568.1 C983.2 1574.0 976.8 1572.0 987.1 1577.6 C997.4 1583.2 992.7 1580.0 1003.8 1584.8 C1014.9 1589.6 1007.0 1588.7 1020.5 1591.9 C1034.0 1595.1 1028.4 1594.3 1044.3 1594.3 C1060.2 1594.3 1053.8 1595.1 1068.1 1591.9 C1082.4 1588.7 1075.2 1588.8 1087.1 1584.8 C1099.0 1580.8 1092.7 1583.2 1103.8 1580.0 C1114.9 1576.8 1108.6 1578.8 1120.5 1575.2 C1132.4 1571.6 1125.2 1572.1 1139.5 1569.3 C1153.8 1566.5 1147.4 1567.7 1163.3 1566.9 C1179.2 1566.1 1171.2 1566.1 1187.1 1566.9 C1203.0 1567.7 1195.1 1567.3 1211.0 1569.3 C1226.9 1571.3 1218.9 1570.9 1234.8 1572.9 C1250.7 1574.9 1242.7 1573.2 1258.6 1575.2 C1274.5 1577.2 1266.5 1576.4 1282.4 1578.8 C1298.3 1581.2 1290.3 1579.6 1306.2 1582.4 C1322.1 1585.2 1311.3 1585.5 1330.0 1587.1 C1348.7 1588.7 1343.7 1585.5 1362.4 1587.1 C1381.1 1588.7 1370.3 1587.1 1386.2 1591.9 C1402.1 1596.7 1394.1 1595.0 1410.0 1601.4 C1425.9 1607.8 1417.9 1604.6 1433.8 1611.0 C1449.7 1617.4 1441.7 1613.4 1457.6 1620.5 C1473.5 1627.6 1467.9 1624.5 1481.4 1632.4 C1494.9 1640.3 1487.8 1635.6 1498.1 1644.3 C1508.4 1653.0 1504.5 1648.3 1512.4 1658.6 C1520.3 1668.9 1516.4 1663.3 1521.9 1675.2 C1527.4 1687.1 1525.0 1681.6 1529.0 1694.3 C1533.0 1707.0 1530.6 1699.0 1533.8 1713.3 C1537.0 1727.6 1535.4 1721.2 1538.6 1737.1 C1541.8 1753.0 1540.1 1745.1 1543.3 1761.0 C1546.5 1776.9 1544.1 1768.9 1548.1 1784.8 C1552.1 1800.7 1549.6 1794.3 1555.2 1808.6 C1560.8 1822.9 1556.9 1814.9 1564.8 1827.6 C1572.7 1840.3 1567.9 1835.6 1579.0 1846.7 C1590.1 1857.8 1584.6 1852.3 1598.1 1861.0 C1611.6 1869.7 1606.8 1865.8 1619.5 1872.9 C1632.2 1880.0 1625.9 1876.1 1636.2 1882.4 C1646.5 1888.7 1629.2 1881.0 1650.5 1891.9 C1671.8 1902.8 1683.5 1907.3 1700.0 1915.0 L1700.0 1930.0 L783.0 1930.0Z"/>
<path fill="#00a0ff" d="M1371.3 1930.0 C1372.3 1916.5 1370.1 1910.9 1374.3 1889.5 C1378.5 1868.1 1375.9 1878.4 1383.8 1865.7 C1391.7 1853.0 1387.0 1858.5 1398.1 1851.4 C1409.2 1844.3 1405.2 1847.1 1417.1 1844.3 C1429.0 1841.5 1420.3 1841.5 1433.8 1843.1 C1447.3 1844.7 1443.3 1843.8 1457.6 1849.0 C1471.9 1854.2 1465.6 1851.4 1476.7 1858.6 C1487.8 1865.8 1482.3 1860.2 1491.0 1870.5 C1499.7 1880.8 1497.9 1869.7 1502.9 1889.5 C1507.9 1909.3 1504.9 1916.5 1505.9 1930.0Z"/>
<path fill="#8200dc" d="M1103.0 1930.0 C1102.5 1916.5 1104.3 1914.9 1101.4 1889.5 C1098.5 1864.1 1099.4 1875.2 1094.3 1853.8 C1089.2 1832.4 1091.6 1843.5 1086.0 1825.2 C1080.4 1806.9 1083.6 1814.1 1077.6 1799.0 C1071.6 1783.9 1075.2 1791.1 1068.1 1780.0 C1061.0 1768.9 1064.9 1775.2 1056.2 1765.7 C1047.5 1756.2 1052.2 1761.7 1041.9 1751.4 C1031.6 1741.1 1036.3 1745.1 1025.2 1734.8 C1014.1 1724.5 1019.7 1729.2 1008.6 1720.5 C997.5 1711.8 1001.4 1715.8 991.9 1708.6 C982.4 1701.4 986.3 1707.7 980.0 1699.0 C973.7 1690.3 975.3 1692.7 972.9 1682.4 C970.5 1672.1 969.7 1676.8 972.9 1668.1 C976.1 1659.4 972.9 1662.6 982.4 1656.2 C991.9 1649.8 988.7 1652.2 1001.4 1649.0 C1014.1 1645.8 1007.8 1647.5 1020.5 1646.7 C1033.2 1645.9 1026.8 1645.9 1039.5 1646.7 C1052.2 1647.5 1046.7 1645.8 1058.6 1649.0 C1070.5 1652.2 1064.9 1650.6 1075.2 1656.2 C1085.5 1661.8 1080.0 1659.4 1089.5 1665.7 C1099.0 1672.0 1093.5 1669.6 1103.8 1675.2 C1114.1 1680.8 1108.6 1679.2 1120.5 1682.4 C1132.4 1685.6 1125.2 1684.0 1139.5 1684.8 C1153.8 1685.6 1147.4 1685.2 1163.3 1684.8 C1179.2 1684.4 1171.2 1684.4 1187.1 1683.6 C1203.0 1682.8 1195.1 1683.6 1211.0 1682.4 C1226.9 1681.2 1218.9 1681.6 1234.8 1680.0 C1250.7 1678.4 1242.7 1679.2 1258.6 1677.6 C1274.5 1676.0 1266.5 1676.4 1282.4 1675.2 C1298.3 1674.0 1290.3 1674.8 1306.2 1674.0 C1322.1 1673.2 1315.2 1675.7 1330.0 1672.9 C1344.8 1670.1 1335.7 1669.3 1350.5 1665.7 C1365.3 1662.1 1358.4 1663.3 1374.3 1662.1 C1390.2 1660.9 1382.2 1660.1 1398.1 1662.1 C1414.0 1664.1 1407.6 1663.7 1421.9 1668.1 C1436.2 1672.5 1429.9 1668.9 1441.0 1675.2 C1452.1 1681.5 1448.1 1677.6 1455.2 1687.1 C1462.3 1696.6 1460.0 1691.9 1462.4 1703.8 C1464.8 1715.7 1464.0 1710.2 1462.4 1722.9 C1460.8 1735.6 1462.4 1730.0 1457.6 1741.9 C1452.8 1753.8 1456.0 1748.3 1448.1 1758.6 C1440.2 1768.9 1444.1 1764.2 1433.8 1772.9 C1423.5 1781.6 1429.0 1777.7 1417.1 1784.8 C1405.2 1791.9 1409.2 1788.0 1398.1 1794.3 C1387.0 1800.6 1392.5 1796.7 1383.8 1803.8 C1375.1 1810.9 1379.0 1807.0 1371.9 1815.7 C1364.8 1824.4 1368.7 1819.7 1362.4 1830.0 C1356.1 1840.3 1358.5 1835.6 1352.9 1846.7 C1347.3 1857.8 1349.7 1849.0 1345.7 1863.3 C1341.7 1877.6 1343.2 1867.3 1341.0 1889.5 C1338.8 1911.7 1339.7 1916.5 1339.0 1930.0Z"/>
<path fill="#fefefe" d="M300.0 1758.6 C316.3 1760.2 330.3 1757.0 349.0 1763.3 C367.7 1769.6 352.2 1766.5 356.2 1777.6 C360.2 1788.7 358.6 1784.8 361.0 1796.7 C363.4 1808.6 362.5 1799.8 363.3 1813.3 C364.1 1826.8 365.7 1823.6 363.3 1837.1 C360.9 1850.6 377.3 1846.6 356.2 1853.8 C335.1 1861.0 318.7 1857.0 300.0 1858.6Z"/>
</g>
<g fill="none" stroke="#000" stroke-linejoin="round" stroke-linecap="round" filter="url(#b2)">
<path stroke-width="3.2" d="M499.0 493.3 L502.0 496.4 L507.0 502.0 L509.7 504.0 L513.3 508.8 L518.9 507.0 L523.7 505.8 L528.3 503.3 L532.4 502.4 L538.3 502.8 L542.9 505.1 L549.1 504.8 L553.8 506.4 L558.0 508.6 L563.4 510.9 L567.3 513.0 L573.3 516.7 L576.7 518.4 L582.4 520.7 L587.7 522.2 L592.6 524.7 L596.9 528.0 L601.7 529.9 L606.0 532.8 L610.8 535.3 L615.7 537.4 L620.4 539.5 L624.3 542.1 L630.0 543.6 L635.3 546.9 L639.4 548.0 L644.2 550.1 L648.3 553.0 L653.0 555.2 L658.6 557.6 L663.4 558.9 L668.4 561.2 L673.3 564.8 L677.7 565.6 L682.4 568.4 L688.0 570.2 L691.9 573.1 L698.0 575.3 L703.1 576.1 L707.4 577.6 L713.3 578.8 L719.5 578.4 L724.7 581.1 L728.6 581.1 L734.8 582.6 L740.1 584.1 L745.1 586.5 L749.7 588.4 L753.8 592.2 L758.0 593.0 L763.3 595.7 L768.5 596.5 L772.7 597.3 L778.1 599.9 L784.3 601.0 L788.5 601.9 L794.3 602.4 L792.6 608.5 L792.8 614.3 L792.3 620.7 L790.7 626.7 L792.2 632.6 L792.6 637.9 L795.0 641.8 L796.7 646.6 L798.5 652.4 L798.6 657.8 L800.2 662.4 L803.3 665.7 L807.1 669.4 L809.8 674.3 L810.9 679.5 L811.0 686.7 L811.4 691.8 L811.3 696.2 L812.1 702.9 L811.4 707.6 L812.8 713.6 L812.8 720.0 L812.3 724.0 L813.3 730.0 L808.1 732.2 L801.2 736.0 L796.7 739.5 L794.3 744.0 L792.9 749.2 L791.9 753.8 L792.1 759.2 L792.1 765.6 L791.2 772.5 L791.9 777.6 L790.2 782.8 L788.7 789.8 L789.0 796.0 L787.1 801.4 L785.7 806.9 L783.8 813.6 L783.7 819.0 L782.4 825.2 L782.5 830.3 L782.8 836.1 L781.2 841.7 L780.5 846.2 L781.2 851.4 L786.4 850.9 L791.2 852.0 L796.5 851.5 L803.8 850.7 L807.7 851.6 L813.7 851.7 L819.8 850.7 L824.2 851.0 L830.0 851.4 M661.0 1150.0 L663.6 1147.0 L668.7 1142.8 L670.7 1139.3 L675.2 1134.8 L678.1 1129.9 L680.0 1125.2 L684.5 1121.1 L687.4 1116.5 L691.9 1113.3 L697.3 1111.8 L703.5 1112.6 L710.1 1112.3 L715.7 1111.0 L722.1 1109.6 L727.7 1109.1 L734.1 1108.3 L739.5 1107.4 L744.3 1105.8 L750.9 1103.0 L756.0 1100.7 L760.0 1099.3 L765.7 1097.9 L766.5 1093.7 L766.8 1087.4 L767.4 1082.3 L766.9 1077.6 L768.0 1072.7 L770.5 1066.5 L772.2 1061.4 L773.5 1055.4 L775.2 1049.0 L776.6 1044.0 L777.0 1038.0 L778.2 1031.5 L778.5 1026.4 L780.0 1020.5 L779.0 1015.9 L778.9 1008.7 L778.7 1005.0 L779.0 998.0 L778.2 992.4 L779.4 988.1 L778.8 982.4 L781.8 978.1 L783.2 973.1 L786.4 968.8 L789.9 964.1 L791.9 958.6 L795.0 956.1 L800.7 953.1 L803.8 949.0 L804.7 943.7 L806.4 938.6 L809.6 935.4 L810.9 930.6 L812.6 924.8 L813.2 919.7 L815.7 915.7 L823.4 913.9 L830.0 913.3 L829.6 907.2 L830.0 901.4 L833.8 897.4 L839.5 894.3 L843.8 890.8 L848.8 886.0 L853.8 882.4 L859.5 878.4 L864.0 874.7 L868.1 870.5 L872.3 867.2 L878.3 864.7 L883.6 861.0 M830.0 850.2 L834.9 850.6 L840.4 849.6 L846.2 849.4 L851.3 849.5 L854.8 849.6 L861.0 850.2 L867.1 852.4 L871.1 852.6 L877.6 853.8 L883.6 861.0 L887.1 865.7 L892.6 866.7 L897.6 866.5 L903.5 867.6 L908.9 868.2 L914.5 867.1 L920.5 868.1 L926.0 867.9 L929.9 868.0 L935.0 868.2 L941.3 868.0 L946.3 867.0 L950.9 866.9 L956.2 866.9 L962.7 866.1 L968.4 866.0 L972.8 866.4 L979.9 866.9 L984.8 866.9 L990.5 869.0 L996.2 869.6 L1002.7 871.5 L1008.6 872.4 L1014.8 872.7 L1019.6 872.1 L1024.9 873.1 L1031.2 872.4 L1033.3 877.9 L1034.8 882.4 L1036.2 887.0 L1039.0 891.9 L1039.5 897.8 L1039.0 903.3 L1043.7 903.2 L1050.6 902.8 L1054.7 902.9 L1061.1 904.0 L1065.4 902.6 L1071.0 903.0 L1077.0 902.6 L1082.4 903.3 L1091.9 906.2 M1070.5 861.0 L1069.4 865.9 L1069.9 872.5 L1068.1 877.6 L1069.7 883.3 L1072.9 887.1 L1078.1 889.3 L1084.8 891.9 L1086.0 901.4 L1091.9 907.4 L1084.8 913.3 L1088.1 918.7 L1089.5 922.9 L1090.8 928.3 L1090.5 934.2 L1091.9 939.5 L1094.7 943.1 L1099.0 947.9 L1099.0 955.0 L1093.4 954.4 L1088.1 956.2 L1083.3 955.9 L1077.6 956.2 L1076.7 962.1 L1075.2 968.1 L1078.1 971.9 L1082.4 975.2 L1085.8 979.3 L1089.5 982.4 L1092.7 987.0 L1094.3 991.9 L1095.6 999.5 L1096.7 1006.2 L1097.7 1011.6 L1099.0 1018.1 L1104.2 1023.6 L1108.6 1027.6 L1113.9 1031.0 L1118.1 1033.6 L1120.0 1039.3 L1120.5 1044.3 L1124.7 1047.4 L1128.1 1050.9 L1132.4 1053.8 L1133.9 1058.4 L1137.1 1063.3 L1141.9 1070.5 L1140.1 1075.7 L1137.1 1080.0 L1141.0 1084.3 L1144.3 1089.5 L1145.3 1095.4 L1146.7 1101.4 L1144.3 1111.0 L1145.7 1116.8 L1146.7 1122.9 L1150.2 1127.7 L1152.4 1131.1 L1156.2 1134.8 L1161.5 1136.9 L1165.7 1140.5 L1170.5 1141.9 L1175.2 1150.0 M1146.7 1101.4 L1151.7 1102.1 L1158.6 1102.6 L1160.0 1102.6 L1166.5 1101.4 L1174.3 1099.0 L1180.7 1098.1 L1184.6 1097.2 L1191.0 1096.5 L1196.5 1095.3 L1202.7 1094.1 L1207.6 1093.1 L1212.6 1093.4 L1217.4 1092.3 L1222.9 1091.8 L1227.5 1091.7 L1233.1 1089.2 L1238.6 1089.5 L1243.7 1089.9 L1248.7 1090.5 L1255.1 1091.7 L1260.5 1091.4 L1265.8 1093.0 L1271.9 1093.1 L1277.5 1091.2 L1280.9 1089.7 L1286.2 1087.1 L1291.6 1084.2 L1296.6 1082.9 L1302.9 1080.0 L1308.3 1076.7 L1312.4 1072.9 M1236.2 891.9 L1240.1 896.0 L1243.6 900.8 L1248.1 903.8 L1251.4 907.6 L1255.9 911.6 L1258.8 914.5 L1252.9 920.5 L1252.5 926.0 L1252.4 931.7 L1252.7 938.1 L1251.7 944.3 L1253.6 951.0 L1254.0 958.6 L1256.8 962.9 L1260.0 968.1 L1260.3 973.0 L1259.8 979.7 L1261.2 984.8 L1254.0 988.3 L1254.0 997.9 L1259.5 997.4 L1265.5 997.9 L1271.9 997.9 L1275.3 992.8 L1279.0 987.1 L1281.7 982.1 L1283.8 977.6 L1289.4 976.0 L1293.3 972.9 L1297.2 969.4 L1302.9 964.5 L1312.4 962.1 L1319.5 968.1 L1321.9 973.4 L1322.0 978.3 L1324.3 982.4 L1326.3 986.2 L1326.9 992.8 L1329.9 996.2 L1331.4 1001.4 L1332.2 1006.3 L1334.1 1013.1 L1336.2 1018.1 L1335.9 1024.6 L1336.2 1032.4 L1333.4 1038.9 L1329.0 1044.3 L1327.2 1051.0 L1326.7 1056.2 L1323.0 1059.9 L1319.1 1063.3 L1314.8 1065.7 L1312.4 1072.9 M1312.4 1070.5 L1320.1 1070.0 L1326.7 1068.1 L1331.4 1072.9 L1331.4 1078.6 L1332.7 1084.1 L1333.1 1089.7 L1333.8 1094.3 L1335.1 1099.8 L1336.2 1106.2 L1339.6 1108.6 L1344.1 1111.7 L1348.1 1115.7 L1350.4 1119.8 L1352.8 1125.2 L1355.2 1130.0 L1356.5 1135.7 L1356.6 1140.7 L1358.7 1145.1 L1360.0 1150.0 M1421.9 1122.9 L1417.5 1125.9 L1412.1 1127.5 L1407.6 1130.0 L1403.8 1130.8 L1398.3 1133.5 L1393.3 1134.8 L1388.4 1140.1 L1385.7 1145.8 L1381.4 1150.0 M663.3 1150.0 L659.8 1154.9 L657.0 1157.9 L653.8 1161.9 M1172.9 1150.0 L1172.9 1155.4 L1171.7 1162.9 L1170.5 1169.0 L1172.5 1175.3 L1175.0 1180.1 L1177.6 1185.7 L1176.7 1191.5 L1175.1 1196.1 L1174.6 1201.5 L1174.5 1206.2 L1172.9 1211.9 L1175.9 1217.1 L1177.7 1222.1 L1180.0 1228.9 L1182.4 1233.3 L1183.9 1239.8 L1184.4 1244.8 L1185.5 1251.3 L1187.1 1257.1 L1186.8 1263.0 L1185.0 1268.3 L1186.1 1273.3 L1184.8 1278.6 L1184.5 1283.6 L1185.0 1288.7 L1187.4 1294.9 L1187.1 1300.0 L1183.9 1306.5 L1180.0 1311.9 L1179.0 1317.5 L1176.7 1322.9 L1175.1 1328.1 L1172.9 1333.3 L1172.1 1339.9 L1170.5 1347.6 L1172.9 1354.8 L1170.0 1358.7 L1167.0 1361.9 L1163.3 1366.7 L1157.9 1370.5 L1153.8 1376.2 L1148.4 1380.6 L1141.9 1383.3 L1134.8 1384.5 L1134.3 1390.2 L1133.8 1397.0 L1132.4 1402.4 L1128.9 1405.5 L1125.2 1409.5 L1115.7 1411.9 M1172.9 1354.8 L1177.3 1357.0 L1182.4 1359.5 L1188.0 1361.8 L1194.3 1364.3 L1200.5 1364.0 L1206.2 1361.9 L1207.7 1356.5 L1210.0 1350.0 L1213.3 1345.2 L1220.5 1340.5 L1227.5 1341.1 L1234.0 1341.2 L1239.5 1341.7 L1244.1 1342.2 L1250.8 1344.1 L1256.2 1344.0 L1260.7 1349.4 L1263.3 1354.8 L1267.9 1357.6 L1272.9 1361.9 L1280.3 1360.1 L1287.1 1359.5 L1290.9 1355.4 L1295.0 1353.5 L1300.5 1350.0 L1306.9 1349.7 L1314.8 1347.6 L1315.2 1343.0 L1316.4 1335.9 L1318.8 1331.0 L1319.5 1326.2 L1323.6 1331.5 L1326.7 1338.1 L1328.2 1343.4 L1331.9 1348.3 L1333.8 1352.4 L1339.0 1348.4 L1343.6 1346.5 L1348.1 1342.9 L1352.8 1340.6 L1357.1 1337.4 L1362.4 1333.3 L1368.4 1329.2 L1372.5 1327.3 L1379.0 1323.8 L1379.6 1317.0 L1379.0 1311.9 M1141.9 1383.3 L1146.3 1388.6 L1151.4 1392.9 L1153.9 1398.4 L1157.8 1401.5 L1161.0 1407.1 L1161.5 1412.8 L1162.4 1418.6 L1163.3 1423.8 L1169.7 1424.4 L1177.6 1423.8 L1178.5 1430.0 L1180.0 1435.7 L1175.5 1437.9 L1170.2 1441.1 L1165.7 1442.9 L1165.8 1449.0 L1164.2 1453.6 L1163.3 1459.5 L1160.1 1466.4 L1158.6 1471.4 L1155.8 1477.6 L1151.9 1482.7 L1149.0 1488.1 L1144.3 1480.0 M1277.6 1361.9 L1277.4 1369.7 L1275.2 1376.2 L1273.1 1381.8 L1270.5 1388.1 L1270.4 1394.2 L1270.3 1399.2 L1270.7 1404.9 L1270.5 1409.5 L1269.5 1414.6 L1266.3 1420.2 L1265.7 1426.2 L1260.8 1431.1 L1256.2 1435.7 L1252.9 1439.6 L1247.4 1442.7 L1244.3 1445.2 L1243.3 1450.7 L1241.2 1454.3 L1239.5 1459.5 L1239.4 1466.5 L1238.3 1473.1 L1237.1 1478.6 L1229.7 1478.4 L1222.9 1479.8 L1223.0 1475.2 L1222.3 1470.0 L1222.9 1464.3 L1220.5 1454.8 L1215.4 1454.0 L1208.8 1454.6 L1202.6 1453.3 L1196.7 1453.6 L1192.6 1448.8 L1189.5 1442.9 L1185.3 1439.2 L1180.0 1435.7 M1237.1 1478.6 L1242.6 1480.8 L1250.4 1481.2 L1256.2 1483.3 L1260.8 1481.7 L1265.8 1478.6 L1269.5 1476.2 L1274.2 1474.0 L1278.4 1470.8 L1283.2 1469.5 L1288.6 1466.7 L1293.7 1465.6 L1299.1 1464.3 L1303.9 1462.2 L1310.0 1461.9 L1316.6 1462.4 L1320.3 1463.8 L1326.7 1464.3 L1332.0 1465.4 L1336.4 1467.5 L1341.0 1468.7 L1345.7 1471.4 L1350.7 1473.6 L1358.3 1473.8 L1363.7 1474.5 L1369.5 1476.2 L1376.0 1479.0 L1381.4 1482.1 L1387.9 1482.3 L1393.2 1482.3 L1398.1 1481.0 L1403.0 1478.3 L1408.2 1476.8 L1413.3 1474.7 L1419.5 1473.8 L1423.2 1470.4 L1426.6 1466.3 L1431.0 1460.4 L1433.8 1457.1 L1443.3 1459.5 M1383.8 1150.0 L1379.2 1151.9 L1373.5 1155.1 L1369.1 1156.4 L1364.8 1158.3 L1359.1 1159.8 L1352.9 1159.5 L1354.8 1165.7 L1355.9 1171.6 L1357.6 1178.6 L1358.5 1186.7 L1357.6 1192.9 L1353.1 1195.1 L1349.2 1198.9 L1345.7 1202.4 L1342.5 1206.4 L1338.4 1207.8 L1333.8 1211.9 L1334.4 1218.7 L1334.1 1225.6 L1333.8 1231.0 L1334.7 1235.6 L1337.9 1242.6 L1339.6 1246.6 L1341.0 1252.4 L1344.2 1257.1 L1346.2 1260.3 L1349.4 1264.1 L1352.9 1269.0 L1355.2 1273.1 L1357.1 1277.8 L1360.4 1282.4 L1362.4 1288.1 L1365.2 1293.1 L1366.2 1300.1 L1369.5 1304.8 L1373.7 1309.2 L1379.0 1311.9 L1385.0 1312.7 L1388.8 1311.8 L1393.9 1312.8 L1400.6 1312.2 L1405.2 1311.9 L1410.5 1311.9 L1416.6 1312.5 L1421.6 1312.1 L1426.7 1313.1 L1423.7 1306.9 L1421.9 1302.4 L1422.3 1296.1 L1421.2 1290.4 L1421.9 1283.3 L1427.4 1283.1 L1433.8 1283.3 L1439.5 1281.3 L1447.2 1279.8 L1452.9 1278.6 L1458.2 1276.2 L1464.8 1273.8 L1471.5 1274.6 L1479.0 1273.8 L1480.6 1279.5 L1483.8 1283.3 L1490.1 1285.3 L1498.1 1285.7 L1505.6 1286.3 L1512.4 1288.1 L1517.1 1292.4 L1521.9 1297.6 L1526.2 1299.4 L1531.2 1303.4 L1536.2 1304.8 L1542.8 1307.2 L1546.5 1307.5 L1552.9 1309.5 L1559.0 1309.8 L1564.1 1311.5 L1569.9 1312.1 L1574.3 1314.3 L1580.3 1313.4 L1584.3 1312.1 L1591.0 1312.6 L1595.7 1311.9 M1464.8 1273.8 L1462.4 1278.4 L1462.0 1282.8 L1459.5 1287.4 L1457.6 1292.9 L1456.4 1299.4 L1456.8 1304.2 L1455.0 1309.9 L1455.2 1316.7 L1454.8 1322.6 L1453.6 1328.0 L1453.7 1335.0 L1452.9 1340.5 L1454.7 1346.6 L1454.7 1351.5 L1456.9 1358.2 L1457.6 1364.3 L1462.8 1365.8 L1467.8 1368.7 L1471.9 1371.4 L1476.6 1376.1 L1479.8 1378.4 L1483.8 1383.3 L1488.6 1388.0 L1492.5 1392.4 L1495.7 1397.6 L1498.7 1404.2 L1502.9 1409.5 L1505.8 1414.4 L1509.0 1420.8 L1512.4 1426.2 L1504.3 1427.4 L1498.1 1428.6 L1495.6 1423.8 L1493.3 1419.0 L1485.4 1419.4 L1479.0 1419.0 L1474.9 1415.0 L1469.5 1409.5 L1460.0 1409.5 L1458.0 1414.7 L1456.6 1419.5 L1455.2 1423.8 L1449.6 1426.9 L1445.7 1428.6 L1446.6 1433.8 L1445.7 1439.1 L1445.8 1443.4 L1446.6 1449.0 L1445.7 1454.8 L1444.3 1459.5 L1443.6 1466.5 L1443.3 1471.4 L1439.2 1474.6 L1437.4 1478.7 L1433.8 1483.3 L1431.6 1489.4 L1431.6 1495.2 L1430.6 1500.4 L1429.0 1507.1 L1428.6 1513.5 L1425.7 1518.3 L1425.5 1525.0 L1424.3 1531.0 L1421.9 1535.7 L1427.4 1536.1 L1433.6 1537.4 L1439.9 1540.0 L1445.7 1540.5 L1449.8 1542.4 L1455.7 1543.4 L1460.7 1546.7 L1464.8 1547.6 L1462.2 1553.4 L1460.0 1559.5 L1457.1 1564.8 L1452.9 1570.0 M1144.3 1480.0 L1144.9 1487.2 L1146.5 1492.3 L1146.7 1499.0 L1147.7 1504.2 L1149.7 1511.1 L1151.4 1515.7 L1148.8 1522.1 L1145.7 1527.5 L1141.9 1532.4 L1141.0 1538.8 L1142.8 1545.9 L1141.9 1551.4 L1141.4 1557.6 L1142.2 1563.9 L1141.9 1570.5 L1136.4 1571.2 L1130.6 1573.6 L1125.2 1575.2 L1119.5 1579.3 L1115.7 1584.8 L1114.3 1592.5 L1111.0 1599.0 L1108.3 1602.9 L1103.8 1606.2 M1099.0 1503.8 L1103.8 1508.1 L1108.1 1510.0 L1111.8 1514.1 L1115.7 1518.1 L1120.8 1520.5 L1125.3 1524.7 L1130.2 1526.2 L1134.8 1529.4 L1139.5 1532.4 M1103.8 1606.2 L1106.3 1611.3 L1106.6 1617.6 L1108.6 1622.9 L1109.0 1629.0 L1111.9 1634.8 L1111.7 1640.7 L1113.3 1646.7 L1114.2 1652.3 L1114.1 1658.6 L1115.7 1665.7 L1117.7 1670.3 L1120.0 1674.7 L1122.0 1680.1 L1125.2 1684.8 L1129.1 1689.8 L1131.7 1694.6 L1134.8 1699.0 L1137.4 1704.2 L1141.1 1708.6 L1144.3 1713.3 L1148.1 1718.0 L1151.4 1722.9 L1156.2 1722.8 L1161.2 1723.7 L1166.7 1724.2 L1171.1 1724.1 L1178.0 1724.3 L1182.4 1725.2 L1187.1 1732.4 L1184.9 1737.1 L1182.4 1741.9 L1180.8 1748.8 L1180.0 1753.8 L1174.4 1754.7 L1169.0 1753.7 L1165.2 1754.9 L1158.5 1755.2 L1154.0 1756.3 L1149.0 1756.2 L1148.8 1761.0 L1151.1 1767.4 L1150.1 1771.9 L1151.4 1777.6 L1151.4 1784.8 M1103.8 1606.2 L1106.5 1610.7 L1110.0 1615.2 L1113.4 1618.8 L1115.7 1622.9 L1120.9 1626.6 L1125.8 1629.2 L1130.0 1632.4 L1134.7 1635.8 L1139.2 1637.6 L1143.3 1640.3 L1146.7 1644.3 L1152.8 1643.7 L1157.8 1643.6 L1163.3 1641.9 L1168.2 1638.2 L1172.9 1634.8 L1175.0 1630.8 L1176.2 1625.0 L1177.6 1620.5 L1180.7 1616.4 L1184.4 1612.2 L1187.1 1608.6 L1192.8 1606.3 L1199.0 1603.8 L1202.8 1606.6 L1207.6 1610.8 L1211.0 1613.3 L1215.0 1616.4 L1218.3 1619.3 L1222.9 1622.9 L1226.2 1626.2 L1231.0 1628.4 L1234.8 1632.4 L1238.0 1638.0 L1239.5 1644.3 L1245.0 1646.8 L1250.0 1647.3 L1253.7 1650.4 L1258.6 1651.4 L1259.2 1655.3 L1261.9 1660.9 L1263.3 1665.7 M1263.3 1665.7 L1264.1 1672.2 L1263.4 1678.6 L1263.3 1683.6 L1263.3 1689.5 L1264.3 1695.2 L1264.2 1701.6 L1264.8 1708.2 L1265.7 1713.3 L1265.5 1719.3 L1263.7 1724.9 L1263.7 1731.3 L1263.3 1737.1 L1261.1 1743.4 L1259.5 1748.2 L1256.2 1753.8 L1256.9 1760.4 L1258.8 1766.2 L1258.6 1772.9 L1257.9 1779.1 L1256.3 1783.6 L1256.2 1789.5 M1234.8 1632.4 L1237.7 1628.3 L1238.6 1622.1 L1241.3 1618.5 L1243.0 1614.3 L1244.3 1608.6 L1247.5 1603.1 L1248.4 1597.4 L1251.4 1592.5 L1253.8 1587.1 L1256.3 1582.5 L1260.4 1579.4 L1263.3 1575.2 M1256.2 1480.0 L1257.5 1487.3 L1259.7 1491.8 L1261.0 1499.0 L1262.4 1505.9 L1263.7 1512.1 L1265.7 1518.1 L1266.3 1523.3 L1269.6 1529.4 L1270.5 1534.8 L1263.7 1533.0 L1256.2 1532.4 L1252.2 1529.3 L1247.8 1526.4 L1244.3 1522.9 M1250.5 1534.8 L1251.4 1541.3 L1252.2 1545.7 L1252.9 1551.4 L1253.3 1557.9 L1255.2 1565.7 L1260.5 1567.9 L1264.8 1571.7 M1264.8 1571.7 L1270.0 1568.0 L1276.7 1565.7 L1280.3 1562.8 L1283.8 1558.6 L1288.8 1557.6 L1292.5 1554.4 L1298.1 1553.8 L1301.8 1548.7 L1304.9 1544.0 L1307.6 1539.5 L1311.7 1537.3 L1317.1 1536.0 L1320.3 1541.1 L1325.2 1544.4 L1329.0 1549.0 L1334.9 1546.4 L1341.0 1544.3 L1344.3 1542.1 L1349.5 1539.3 L1353.3 1535.6 L1357.6 1532.4 L1357.1 1524.3 L1357.6 1518.1 L1364.4 1515.3 L1369.5 1511.0 L1373.9 1508.6 L1379.7 1504.2 L1383.8 1501.4 L1388.8 1500.0 L1393.3 1497.6 L1398.1 1494.3 L1400.8 1489.3 L1404.9 1484.2 L1407.6 1480.0 M1262.4 1665.7 L1267.4 1668.8 L1273.1 1671.0 L1277.9 1672.2 L1283.8 1675.2 L1288.3 1672.6 L1294.3 1670.8 L1298.1 1669.3 L1303.8 1666.5 L1309.3 1665.1 L1314.8 1663.3 L1319.3 1660.1 L1323.5 1659.2 L1329.0 1656.2 L1331.7 1651.5 L1334.4 1647.4 L1337.5 1642.7 L1341.0 1639.5 L1346.1 1635.6 L1350.5 1632.4 L1354.6 1631.2 L1359.2 1628.7 L1364.8 1627.6 L1368.6 1622.9 L1371.0 1620.3 L1374.3 1615.7 L1378.9 1611.9 L1381.9 1609.8 L1386.2 1606.2 L1391.5 1605.1 L1396.7 1603.1 L1402.9 1600.2 L1407.6 1602.5 L1412.3 1605.1 L1417.1 1608.6 L1421.1 1603.3 L1424.3 1599.0 L1429.8 1594.4 L1433.8 1589.5 L1438.3 1586.6 L1443.5 1584.2 L1448.1 1582.4 L1450.4 1576.1 L1451.3 1571.4 L1452.9 1565.7 L1455.2 1558.6 M1455.2 1558.6 L1457.1 1564.7 L1459.8 1570.0 L1462.4 1575.2 L1468.1 1574.1 L1473.2 1572.8 L1479.0 1572.9 L1483.1 1575.2 L1488.2 1576.4 L1493.3 1577.6 L1498.1 1576.9 L1504.2 1576.0 L1510.0 1575.2 L1515.5 1572.0 L1521.9 1570.5 L1527.5 1572.3 L1533.8 1575.2 L1538.6 1577.2 L1544.5 1578.2 L1550.5 1580.0 M1047.9 445.7 L1052.8 450.5 L1056.7 455.0 L1059.3 458.1 L1063.1 463.2 L1068.1 467.1 L1072.3 471.3 L1075.7 476.4 L1080.1 480.0 L1083.6 485.0 L1079.1 486.7 L1073.5 488.4 L1068.1 491.0 L1064.2 497.4 L1062.2 502.5 L1058.6 507.6 L1051.1 510.3 L1045.5 514.8"/>
<path stroke-width="4.2" d="M1106.2 319.5 L1096.7 326.7 L1093.8 332.9 L1089.5 341.4 L1087.1 348.1 L1083.9 354.1 L1080.7 362.3 L1077.7 367.9 L1075.2 374.3 L1072.7 379.8 L1071.8 386.9 L1068.5 390.7 L1067.2 396.5 L1064.5 402.9 L1060.5 411.0 L1058.8 417.9 L1056.2 424.3 L1053.2 432.4 L1050.6 437.8 L1047.9 445.7 M337.1 840.0 L343.4 840.1 L352.3 841.0 L358.5 840.3 L366.9 840.0 L366.2 846.2 L365.3 851.9 L365.7 858.6 L368.2 865.6 L370.5 870.5 L376.3 874.4 L384.7 879.6 L390.7 882.4"/>
<path stroke-width="6.6" d="M830.0 366.0 L823.7 365.8 L818.0 365.9 L811.8 366.6 L805.0 367.0 L798.9 367.2 L792.9 367.0 L787.3 368.2 L780.8 367.7 L775.2 368.3 L769.5 370.6 L763.6 371.5 L758.2 372.7 L752.2 374.7 L745.3 376.1 L739.7 378.7 L733.6 380.1 L728.4 381.5 L722.4 382.7 L715.9 384.6 L710.8 386.5 L704.5 388.4 L698.8 389.7 L693.4 391.9 L687.1 393.3 L680.8 394.9 L675.2 396.7 L669.6 397.4 L664.0 398.6 L657.2 400.9 L650.9 402.0 L644.8 403.7 L639.9 405.0 L634.1 406.1 L627.9 407.9 L621.8 409.2 L616.2 411.3 L609.7 412.4 L603.8 413.6 L597.2 415.1 L592.1 416.7 L586.4 416.9 L579.8 418.6 L573.4 419.5 L567.6 420.2 L561.5 422.3 L556.2 423.1 L549.0 423.7 L542.7 425.5 L535.6 425.9 L529.6 427.5 L522.9 427.9 L516.9 436.2 L515.4 442.9 L512.8 448.4 L511.0 455.3 L509.9 460.4 L507.4 467.1 L504.8 473.3 L502.8 480.2 L501.2 486.4 L499.0 493.3 L495.0 498.9 L492.2 504.8 L489.7 510.7 L485.7 516.3 L482.4 521.9 L479.5 527.2 L476.6 534.2 L473.4 540.2 L469.5 545.6 L465.9 551.8 L463.3 557.6 L459.5 562.6 L456.6 568.3 L453.6 573.7 L449.9 579.4 L446.9 585.2 L444.3 591.0 L443.6 597.6 L444.5 602.6 L444.0 608.9 L444.1 614.6 L444.8 621.8 L444.3 627.1 L443.7 632.6 L444.1 638.9 L444.8 644.8 L443.6 651.9 L444.3 656.8 L444.4 662.7 L444.3 670.0 L444.8 675.6 L444.3 681.4 L442.5 687.3 L440.9 693.9 L439.9 700.0 L438.1 705.3 L437.3 712.5 L435.9 718.3 L434.3 724.3 L432.4 730.0 L430.2 736.0 L428.6 741.2 L426.3 747.5 L425.2 753.8 L423.7 760.0 L423.5 765.6 L422.3 772.3 L420.5 777.6 L419.3 784.0 L416.5 790.3 L414.7 796.8 L413.3 803.8 L411.6 810.1 L410.0 815.2 L407.8 821.4 L405.1 826.9 L403.8 832.4 L402.6 838.7 L400.6 844.3 L398.0 850.7 L396.7 856.2 L395.0 863.2 L394.4 869.2 L392.1 876.5 L390.7 882.4 M390.7 882.4 L389.5 894.3 L396.8 896.1 L400.7 899.2 L408.6 903.8 L415.8 909.8 L418.3 914.6 L425.2 918.1 L433.1 919.9 L437.1 920.5 L442.5 926.6 L449.0 932.4 L445.2 936.4 L444.3 944.3 L452.1 950.8 L456.2 956.2 L455.1 965.1 L453.8 970.5 L459.5 976.7 L465.7 980.0 L468.2 987.2 L468.1 996.7 L474.3 998.2 L482.4 1001.4 L480.2 1007.7 L480.0 1013.3 L484.6 1016.2 L489.7 1021.3 L496.7 1022.9 L500.1 1027.5 L505.0 1034.0 L508.6 1037.1 L513.0 1045.9 L518.1 1051.4 L523.5 1054.5 L528.9 1055.4 L533.9 1059.1 L539.5 1063.3 L542.3 1069.3 L547.7 1072.7 L553.8 1077.6 L556.2 1087.1 L563.1 1089.7 L567.4 1092.0 L574.3 1095.4 L580.0 1096.7 L584.0 1101.7 L590.1 1105.3 L596.7 1111.0 L604.9 1115.8 L611.0 1120.5 L616.0 1128.7 L620.5 1134.8 L626.9 1142.2 L630.0 1150.0 L632.4 1157.1 L641.9 1158.3 L651.4 1165.5 L660.2 1167.9 L668.1 1170.2 L674.1 1171.9 L679.8 1172.1 L685.9 1174.7 L691.9 1173.8 L696.7 1181.0 L708.6 1181.0 L711.0 1176.2 L716.5 1183.7 L720.5 1188.1 L725.2 1194.0 L734.8 1196.4 L742.9 1194.3 L747.7 1195.8 L753.8 1192.9 L762.3 1190.2 L768.1 1190.5 L773.7 1195.0 L782.4 1200.0 L787.0 1202.9 L793.4 1208.6 L801.4 1211.9 L808.1 1216.7 L811.2 1219.1 L818.1 1221.4 L824.7 1223.6 L830.0 1228.6 L837.5 1235.2 L841.9 1238.1 L845.5 1245.9 L851.4 1250.0 L855.0 1254.7 L861.3 1260.9 L863.3 1264.3 L866.7 1270.0 L872.9 1276.2 L878.5 1278.7 L882.7 1281.8 L889.5 1285.7 L897.5 1288.5 L903.8 1295.2 L909.6 1297.4 L913.0 1299.3 L920.5 1302.4 L925.8 1306.4 L928.3 1312.3 L934.8 1314.3 L943.1 1319.7 L949.0 1321.4 L953.0 1324.0 L958.3 1329.6 L965.7 1332.1 L971.9 1330.1 L980.0 1331.0 L985.3 1335.0 L992.4 1334.8 L996.7 1338.1 L998.8 1345.7 L1003.8 1350.0 L1008.8 1355.6 L1013.3 1359.5 L1022.9 1354.8 L1032.4 1350.0 L1035.5 1353.0 L1041.9 1359.5 L1048.6 1362.8 L1053.8 1366.7 L1058.0 1373.2 L1065.7 1376.2 L1074.6 1377.4 L1082.4 1376.2 L1084.3 1383.6 L1089.5 1388.1 L1092.5 1394.3 L1099.0 1397.6 L1101.2 1402.9 L1103.8 1409.5 L1108.8 1417.2 L1113.3 1421.4 L1120.5 1431.0 L1123.1 1435.5 L1127.6 1442.9 L1126.5 1450.2 L1125.2 1459.5 L1117.7 1462.9 L1113.3 1469.0 L1108.0 1473.8 L1106.2 1481.0 L1100.7 1486.2 L1096.7 1492.9 L1096.7 1494.3 L1095.3 1499.0 L1091.9 1504.1 L1089.5 1511.0 L1086.5 1517.4 L1084.8 1527.6 L1082.6 1531.6 L1082.4 1539.5 L1077.4 1544.5 L1070.5 1549.0 L1063.7 1551.3 L1061.1 1552.2 L1053.8 1556.2 L1051.5 1561.9 L1046.7 1568.1 L1044.3 1577.8 L1041.9 1584.8 L1040.3 1591.9 L1039.5 1599.0 L1037.9 1608.1 L1034.8 1613.3 L1033.0 1621.8 L1032.4 1627.6 L1034.4 1635.3 L1034.8 1641.9 L1032.0 1648.4 L1030.0 1656.2 L1024.7 1661.9 L1022.9 1670.5 L1016.4 1678.6 L1013.3 1684.8 L1006.8 1688.2 L1000.6 1695.6 L996.7 1699.0 L995.8 1705.2 L991.0 1709.1 L989.5 1715.7 L985.1 1722.7 L982.4 1730.0 L975.1 1732.8 L970.5 1736.0 L968.1 1744.3 L975.2 1751.4 L977.6 1762.1 L983.8 1763.4 L991.9 1761.0 L1002.1 1760.6 L1008.6 1759.8 L1014.7 1760.9 L1022.1 1757.6 L1030.0 1757.4 L1034.3 1757.3 L1042.6 1758.2 L1049.0 1758.6 L1054.2 1759.4 L1059.8 1759.3 L1068.1 1761.0 L1074.8 1762.9 L1084.8 1765.7 L1090.1 1766.8 L1099.0 1771.7 L1106.6 1772.4 L1115.7 1775.2 L1123.2 1778.9 L1130.0 1782.4 L1137.3 1784.4 L1143.5 1786.6 L1148.5 1785.8 L1157.3 1786.4 L1162.5 1789.8 L1166.1 1791.9 L1174.3 1791.9 L1183.0 1794.2 L1188.6 1795.5 L1196.7 1796.1 L1202.9 1794.3 L1207.4 1790.2 L1214.8 1786.0 L1226.7 1784.8 L1231.5 1790.9 L1236.2 1794.3 L1243.4 1796.8 L1248.1 1796.7 L1253.2 1793.5 L1257.6 1787.1 L1269.5 1787.1 L1275.0 1793.8 L1279.0 1799.0 L1281.5 1802.5 L1286.2 1809.8 L1291.9 1809.8 L1300.5 1811.0 L1302.5 1806.3 L1307.6 1799.0 L1310.2 1792.4 L1312.4 1784.8 L1321.9 1777.6 L1327.2 1773.6 L1331.4 1768.1 L1337.3 1764.9 L1343.3 1765.7 L1351.6 1768.5 L1357.6 1769.3 L1369.5 1770.5 L1374.3 1776.6 L1379.0 1782.4 L1386.8 1784.2 L1393.3 1789.5 L1399.0 1783.8 L1402.9 1780.0 L1405.9 1773.1 L1412.4 1768.1 L1414.5 1759.8 L1414.8 1753.8 L1412.4 1744.3 L1418.1 1740.3 L1421.9 1732.4 L1427.8 1729.5 L1433.8 1727.6 L1436.1 1722.4 L1438.6 1715.7 L1445.6 1711.4 L1450.5 1706.2 L1458.2 1702.1 L1464.8 1701.4 L1471.9 1706.2 L1479.0 1699.0 L1478.8 1692.1 L1481.4 1687.1 L1488.3 1681.6 L1493.3 1677.6 L1499.5 1672.1 L1505.2 1670.5 L1505.8 1662.4 L1510.0 1656.2 L1519.0 1654.6 L1526.7 1651.4 L1529.8 1642.3 L1531.4 1634.8 L1536.3 1627.5 L1541.0 1620.5 L1543.2 1613.4 L1547.3 1608.2 L1548.1 1603.8 L1550.8 1598.4 L1547.8 1589.4 L1550.5 1582.4 L1552.6 1577.1 L1551.9 1567.2 L1552.9 1561.0 L1551.7 1555.6 L1551.7 1547.0 L1552.9 1539.5 L1553.0 1533.3 L1557.8 1525.4 L1557.6 1520.5 L1558.1 1513.4 L1557.5 1507.0 L1555.2 1499.0 L1553.4 1494.3 L1553.6 1484.4 L1552.9 1480.0 L1552.1 1473.7 L1555.1 1466.6 L1555.0 1460.5 L1557.6 1454.8 L1558.1 1449.0 L1560.0 1440.5 L1562.8 1434.4 L1569.5 1426.2 L1573.3 1419.1 L1576.0 1415.9 L1576.7 1409.5 L1580.7 1403.1 L1580.9 1398.0 L1583.8 1392.9 L1584.6 1386.1 L1581.4 1378.6 L1582.4 1371.9 L1583.7 1364.1 L1586.2 1359.5 L1586.4 1354.9 L1588.9 1349.3 L1590.5 1340.7 L1593.3 1335.7 L1594.5 1328.5 L1595.2 1325.6 L1598.4 1319.1 L1598.1 1311.9 L1599.4 1307.2 L1601.5 1299.4 L1600.5 1292.9 L1602.0 1285.1 L1602.6 1280.8 L1603.3 1275.6 L1602.9 1269.0 L1604.4 1261.7 L1609.3 1256.4 L1610.0 1252.4 L1608.7 1245.8 L1607.6 1240.5 L1605.2 1235.1 L1606.4 1226.8 L1602.9 1221.4 L1604.7 1212.3 L1605.2 1204.8 L1603.1 1198.4 L1600.5 1192.9 L1592.0 1186.7 L1586.2 1183.3 L1580.3 1179.0 L1576.7 1171.4 L1569.5 1165.5 L1562.4 1161.9 L1558.1 1162.1 L1550.5 1158.3 L1541.0 1161.9 L1533.6 1164.0 L1526.7 1169.0 L1518.3 1170.4 L1512.4 1175.0 L1504.6 1176.4 L1498.1 1181.0 L1490.7 1180.8 L1485.6 1184.1 L1479.0 1183.3 L1474.0 1186.0 L1467.1 1189.3 L1458.5 1186.4 L1450.5 1183.3 L1443.5 1179.1 L1437.4 1176.2 L1435.3 1168.8 L1438.7 1161.6 L1436.5 1157.1 L1436.2 1150.0 L1436.5 1141.3 L1433.8 1134.8 L1426.9 1127.8 L1421.9 1122.9 L1421.5 1115.5 L1423.7 1110.0 L1421.9 1101.4 L1425.0 1093.2 L1423.2 1089.6 L1426.7 1082.4 L1425.9 1075.1 L1421.9 1068.1 L1423.0 1059.7 L1423.1 1057.1 L1424.3 1049.0 L1420.9 1045.7 L1414.8 1039.5 L1415.5 1032.5 L1412.4 1027.6 L1409.6 1017.9 L1410.0 1011.0 L1408.5 1005.4 L1408.6 999.2 L1405.2 991.9 L1407.0 985.8 L1407.6 977.6 L1409.8 970.7 L1412.4 963.3 L1409.4 957.3 L1410.0 949.0 L1403.0 944.7 L1398.1 937.1 L1393.3 927.6 L1393.9 920.5 L1391.8 913.9 L1393.3 908.6 L1387.9 905.8 L1381.4 901.4 L1378.6 893.7 L1379.0 889.5 L1372.0 889.5 L1364.3 887.8 L1358.0 886.6 L1350.5 888.3 L1343.3 888.1 L1339.6 888.9 L1331.4 888.3 L1321.9 884.8 L1316.3 881.1 L1307.6 877.6 L1302.9 868.1 L1300.6 860.5 L1300.5 855.0 L1294.0 855.8 L1283.8 855.0 L1279.0 863.3 L1274.7 867.3 L1271.9 875.2 L1267.1 880.7 L1262.4 884.8 L1255.2 880.0 L1248.9 881.4 L1243.3 884.8 L1236.2 891.9 L1230.9 890.1 L1224.3 884.8 L1217.3 879.3 L1212.4 877.6 L1203.4 879.1 L1195.7 881.2 L1194.3 882.4 L1188.7 880.8 L1182.8 882.6 L1175.2 881.2 L1168.9 879.6 L1164.4 879.6 L1156.2 880.0 L1151.9 875.8 L1144.0 874.7 L1139.5 870.5 L1131.5 871.1 L1125.2 868.1 L1120.5 858.6 L1114.5 856.1 L1108.6 856.2 L1099.0 862.1 L1089.6 861.2 L1082.4 861.0 L1077.1 860.4 L1070.5 856.2 L1067.9 849.8 L1068.1 844.3 L1069.4 839.0 L1072.9 830.0 L1072.6 819.9 L1075.2 813.3 L1072.3 804.6 L1072.9 796.7 L1080.0 787.1 L1080.4 781.5 L1077.6 772.9 L1075.0 768.9 L1070.5 761.0 L1073.4 752.0 L1072.9 744.3 L1076.4 738.9 L1082.4 730.0 L1084.0 720.5 L1083.6 714.8 L1085.5 708.4 L1086.0 702.9 L1085.2 695.7 L1084.1 687.8 L1084.2 682.7 L1084.8 676.7 L1088.4 666.8 L1088.3 660.0 L1087.2 652.9 L1082.4 648.1 L1082.4 641.0 L1083.6 631.4 L1083.1 625.2 L1080.0 619.5 L1072.9 612.4 L1065.7 602.9 L1062.7 596.4 L1062.8 591.8 L1062.1 583.8 L1061.7 576.1 L1065.3 567.7 L1064.5 562.4 L1057.6 560.0 L1051.4 555.2 L1052.5 547.0 L1049.5 540.8 L1051.4 536.2 L1047.1 534.0 L1039.5 533.8 L1039.5 524.3 L1043.5 519.9 L1045.5 512.4 L1044.0 504.9 L1045.5 499.8 L1041.8 493.6 L1041.9 486.2 L1034.8 476.7 L1035.6 469.0 L1035.9 464.2 L1039.5 456.4 M1039.5 456.4 L1033.9 453.0 L1027.8 448.6 L1020.6 445.7 L1015.4 442.8 L1008.6 438.6 L1002.5 434.7 L996.6 431.4 L991.3 427.4 L985.2 424.6 L979.3 421.1 L972.9 417.1 L967.9 413.1 L962.4 409.4 L958.0 405.3 L952.0 402.5 L947.0 397.8 L941.6 394.8 L937.1 391.0 L931.7 388.5 L927.3 385.3 L921.3 380.9 L915.9 378.3 L911.6 375.0 L906.2 371.9 L899.1 371.2 L892.9 370.9 L886.3 370.6 L879.4 369.0 L872.9 368.6 L865.7 368.3 L858.7 367.7 L851.8 367.0 L843.9 366.6 L836.7 367.0 L830.0 366.0 M1562.4 1469.0 L1569.9 1469.5 L1576.7 1471.4 L1579.8 1479.3 L1583.8 1483.3 L1587.0 1476.7 L1591.4 1472.8 L1593.3 1466.7 L1602.4 1463.9 L1607.6 1464.3 L1613.9 1462.4 L1621.7 1459.6 L1626.7 1454.8 L1633.8 1461.9 L1640.3 1461.1 L1650.5 1461.9 M1445.7 1887.1 L1448.9 1878.8 L1455.2 1872.9 L1462.7 1870.8 L1468.1 1867.6 L1471.9 1865.7 L1478.9 1863.1 L1482.1 1862.1 L1488.6 1858.6 L1492.7 1851.1 L1493.3 1846.7 L1499.6 1844.8 L1505.2 1841.9 L1510.0 1835.4 L1517.1 1830.0 L1516.9 1822.9 L1519.5 1818.1 L1523.3 1812.5 L1529.0 1806.2 L1538.0 1805.0 L1545.7 1806.2 L1550.9 1801.9 L1560.0 1799.0 L1564.8 1791.9 L1572.6 1789.4 L1579.0 1789.5 L1588.6 1782.4 L1593.8 1783.6 L1600.5 1787.1 L1607.6 1782.5 L1612.4 1777.6 L1613.0 1768.9 L1617.1 1763.3 L1624.3 1758.6 L1636.2 1759.8 L1642.9 1755.8 L1650.5 1751.4"/>
<path stroke-width="9.4" stroke-dasharray="3 19 7 27 2 15 5 33 8 22 1 17" d="M390.7 882.4 L389.5 894.3 L408.6 903.8 L425.2 918.1 L437.1 920.5 L449.0 932.4 L444.3 944.3 L456.2 956.2 L453.8 970.5 L465.7 980.0 L468.1 996.7 L482.4 1001.4 L480.0 1013.3 L496.7 1022.9 L508.6 1037.1 L518.1 1051.4 L539.5 1063.3 L553.8 1077.6 L556.2 1087.1 L580.0 1096.7 L596.7 1111.0 L611.0 1120.5 L620.5 1134.8 L630.0 1150.0 L632.4 1157.1 L641.9 1158.3 L651.4 1165.5 L668.1 1170.2 L691.9 1173.8 L696.7 1181.0 L708.6 1181.0 L711.0 1176.2 L720.5 1188.1 L725.2 1194.0 L734.8 1196.4 L753.8 1192.9 L768.1 1190.5 L782.4 1200.0 L801.4 1211.9 L818.1 1221.4 L830.0 1228.6 L841.9 1238.1 L851.4 1250.0 L863.3 1264.3 L872.9 1276.2 L889.5 1285.7 L903.8 1295.2 L920.5 1302.4 L934.8 1314.3 L949.0 1321.4 L965.7 1332.1 L980.0 1331.0 L996.7 1338.1 L1003.8 1350.0 L1013.3 1359.5 L1022.9 1354.8 L1032.4 1350.0 L1041.9 1359.5 L1053.8 1366.7 L1065.7 1376.2 L1082.4 1376.2 L1089.5 1388.1 L1099.0 1397.6 L1103.8 1409.5 L1113.3 1421.4 L1120.5 1431.0 L1127.6 1442.9 L1125.2 1459.5 L1113.3 1469.0 L1106.2 1481.0 L1096.7 1492.9 L1096.7 1494.3 L1089.5 1511.0 L1084.8 1527.6 L1082.4 1539.5 L1070.5 1549.0 L1053.8 1556.2 L1046.7 1568.1 L1041.9 1584.8 L1039.5 1599.0 L1034.8 1613.3 L1032.4 1627.6 L1034.8 1641.9 L1030.0 1656.2 L1022.9 1670.5 L1013.3 1684.8 L996.7 1699.0 L989.5 1715.7 L982.4 1730.0 L970.5 1736.0 L968.1 1744.3 L975.2 1751.4 L977.6 1762.1 L991.9 1761.0 L1008.6 1759.8 L1030.0 1757.4 L1049.0 1758.6 L1068.1 1761.0 L1084.8 1765.7 L1099.0 1771.7 L1115.7 1775.2 L1130.0 1782.4 L1174.3 1791.9 L1188.6 1795.5 L1202.9 1794.3 L1214.8 1786.0 L1226.7 1784.8 L1236.2 1794.3 L1248.1 1796.7 L1257.6 1787.1 L1269.5 1787.1 L1279.0 1799.0 L1286.2 1809.8 L1300.5 1811.0 L1307.6 1799.0 L1312.4 1784.8 L1321.9 1777.6 L1331.4 1768.1 L1343.3 1765.7 L1357.6 1769.3 L1369.5 1770.5 L1379.0 1782.4 L1393.3 1789.5 L1402.9 1780.0 L1412.4 1768.1 L1414.8 1753.8 L1412.4 1744.3 L1421.9 1732.4 L1433.8 1727.6 L1438.6 1715.7 L1450.5 1706.2 L1464.8 1701.4 L1471.9 1706.2 L1479.0 1699.0 L1481.4 1687.1 L1493.3 1677.6 L1505.2 1670.5 L1510.0 1656.2 L1526.7 1651.4 L1531.4 1634.8 L1541.0 1620.5 L1548.1 1603.8 L1550.5 1582.4 L1552.9 1561.0 L1552.9 1539.5 L1557.6 1520.5 L1555.2 1499.0 L1552.9 1480.0 L1557.6 1454.8 L1560.0 1440.5 L1569.5 1426.2 L1576.7 1409.5 L1583.8 1392.9 L1581.4 1378.6 L1586.2 1359.5 L1593.3 1335.7 L1598.1 1311.9 L1600.5 1292.9 L1602.9 1269.0 L1610.0 1252.4 L1607.6 1240.5 L1602.9 1221.4 L1605.2 1204.8 L1600.5 1192.9 L1586.2 1183.3 M1194.3 882.4 L1175.2 881.2 L1156.2 880.0 L1139.5 870.5 L1125.2 868.1 L1120.5 858.6 L1108.6 856.2 L1099.0 862.1 L1082.4 861.0 L1070.5 856.2 L1068.1 844.3 L1072.9 830.0 L1075.2 813.3 L1072.9 796.7 L1080.0 787.1 L1077.6 772.9 L1070.5 761.0 L1072.9 744.3 L1082.4 730.0 L1083.6 714.8 L1086.0 702.9 L1084.8 676.7 L1088.3 660.0 L1082.4 648.1 L1083.6 631.4 L1080.0 619.5 L1072.9 612.4 L1065.7 602.9 L1062.1 583.8 M1445.7 1887.1 L1455.2 1872.9 L1471.9 1865.7 L1488.6 1858.6 L1493.3 1846.7 L1505.2 1841.9 L1517.1 1830.0 L1519.5 1818.1 L1529.0 1806.2 L1545.7 1806.2 L1560.0 1799.0 L1564.8 1791.9 L1579.0 1789.5 L1588.6 1782.4 L1600.5 1787.1 L1612.4 1777.6 L1617.1 1763.3 L1624.3 1758.6 L1636.2 1759.8 L1650.5 1751.4 M1562.4 1469.0 L1576.7 1471.4 L1583.8 1483.3 L1593.3 1466.7 L1607.6 1464.3 L1626.7 1454.8 L1633.8 1461.9 L1650.5 1461.9"/>
</g>
</g>
<g id="compass" stroke="#000" stroke-linejoin="miter">
<circle cx="1497.7" cy="490.8" r="41.2" fill="none" stroke-width="6.6"/>
<path d="M1497.7 404.5 L1488.2 450.5 L1497.7 449.5Z" fill="#000" stroke-width="1"/>
<path d="M1497.7 404.5 L1507.2 450.5 L1497.7 449.5Z" fill="none" stroke-width="2.1"/>
<path d="M1497.7 577.5 L1507.2 531 L1497.7 532Z" fill="#000" stroke-width="1"/>
<path d="M1497.7 577.5 L1488.2 531 L1497.7 532Z" fill="none" stroke-width="2.1"/>
<path d="M1585 490.8 L1538 481.3 L1539 490.8Z" fill="#000" stroke-width="1"/>
<path d="M1585 490.8 L1538 500.3 L1539 490.8Z" fill="none" stroke-width="2.1"/>
<path d="M1410 490.8 L1457.4 500.3 L1456.4 490.8Z" fill="#000" stroke-width="1"/>
<path d="M1410 490.8 L1457.4 481.3 L1456.4 490.8Z" fill="none" stroke-width="2.1"/>
</g>
<g fill="#000" font-size="32" text-anchor="middle">
<text x="1498.3" y="389">N</text>
<text x="1498" y="616.7">S</text>
<text x="1388.3" y="502.7">W</text>
<text x="1607" y="502.7">E</text>
</g>
<g id="helix" transform="translate(330 1590) scale(0.10204)" filter="url(#b4)">
<path fill="#e30613" d="M665 95 C615 190 420 270 295 340 C190 400 118 500 135 615 C175 530 270 470 410 412 C550 352 680 260 665 95Z"/>
<path fill="#e30613" d="M250 415H410V445H240Z M228 480H372V506H215Z"/>
<path fill="#e30613" d="M170 592 C230 665 350 715 450 775 C560 835 690 900 722 965 L706 1040 C660 960 520 885 400 815 C300 765 195 715 165 640Z"/>
<path fill="#1f2a8c" d="M705 295 C715 420 570 505 440 585 C320 655 200 730 175 825 C140 725 205 640 330 560 C470 470 665 385 705 295Z"/>
<path fill="#e30613" d="M700 995 C685 1070 555 1125 435 1182 C310 1240 190 1340 186 1460 C230 1375 335 1318 455 1265 C570 1212 700 1150 718 1040Z"/>
<path fill="#1f2a8c" d="M205 795 C265 868 405 915 525 965 C660 1020 765 1095 764 1215 C700 1135 595 1098 475 1048 C330 985 185 910 205 795Z"/>
<path fill="#1f2a8c" d="M745 1205 C755 1340 605 1422 475 1482 C355 1540 245 1598 222 1676 C205 1598 292 1515 412 1455 C512 1405 635 1340 700 1248Z"/>
<path fill="#1f2a8c" d="M530 1215H735V1243H545Z M470 1275H655L640 1300H470Z"/>
<path fill="url(#pyg)" d="M400 662 C450 630 540 640 552 700 L562 742 L640 770 L652 812 L716 836 L706 930 L660 972 L580 978 L558 942 L575 892 L480 842 L402 792 L378 750Z"/>
</g>
<g id="logo">
<text x="424" y="1728.5" font-size="122" font-weight="700" font-style="italic" textLength="376" lengthAdjust="spacingAndGlyphs" fill="#1b2580" stroke="#1b2580" stroke-width="19" stroke-linejoin="miter" stroke-miterlimit="2.2" transform="translate(0 1728.5) skewX(3.2) translate(0 -1728.5)" filter="url(#lg)">INBIO</text>
<text x="413.8" y="1759.3" font-size="18.3" font-weight="700" fill="#1c3a90" fill-opacity="0.92" textLength="387.6" lengthAdjust="spacingAndGlyphs">INSTITUTO DE BIOTECNOLOGÍA AGRÍCOLA</text>
</g>
<g fill="#0a0a1e" font-size="18" font-style="italic">
<text x="353" y="1808.2">Fuente:</text>
<text x="353" y="1829.8" textLength="720" lengthAdjust="spacingAndGlyphs">CPC ANÁLISIS UNIFICADO GLOBAL BASADO EN INDICADORES DE PRECIPITACIÓN</text>
<text x="353" y="1851.5" textLength="575" lengthAdjust="spacingAndGlyphs">DIARIA / NOAA (Administración Nacional Oceánica y Atmosférica/USA).</text>
<text x="353" y="1873.2">Elaboración: Agroclima/INBIO</text>
</g>

<g fill="#0a0a14" font-family="'Liberation Sans',Arial,sans-serif">
<text x="847.1" y="589.8" font-size="26.0" textLength="55.5" lengthAdjust="spacingAndGlyphs" xml:space="preserve">ALTO</text>
<text x="915.7" y="589.8" font-size="26.0" textLength="123.8" lengthAdjust="spacingAndGlyphs" xml:space="preserve">PARAGUAY</text>
<text x="552.6" y="782.4" font-size="26.0" textLength="136.9" lengthAdjust="spacingAndGlyphs" xml:space="preserve">BOQUERÓN</text>
<text x="841.9" y="1118.6" font-size="26.0" textLength="140.5" lengthAdjust="spacingAndGlyphs" xml:space="preserve">PRESIDENTE</text>
<text x="995.5" y="1118.6" font-size="26.0" textLength="71.4" lengthAdjust="spacingAndGlyphs" xml:space="preserve">HAYES</text>
<text x="1155.0" y="1045.5" font-size="26.0" textLength="155.0" lengthAdjust="spacingAndGlyphs" xml:space="preserve">CONCEPCIÓN</text>
<text x="1262.4" y="950.2" font-size="26.0" textLength="123.8" lengthAdjust="spacingAndGlyphs" xml:space="preserve">AMAMBAY</text>
<text x="1412.4" y="1240.5" font-size="26.0" textLength="138.1" lengthAdjust="spacingAndGlyphs" xml:space="preserve">CANINDEYÚ</text>
<text x="1200.5" y="1279.8" font-size="26.0" textLength="46.4" lengthAdjust="spacingAndGlyphs" xml:space="preserve">SAN</text>
<text x="1256.4" y="1279.8" font-size="26.0" textLength="78.6" lengthAdjust="spacingAndGlyphs" xml:space="preserve">PEDRO</text>
<text x="1174.3" y="1404.8" font-size="17.4" textLength="108.3" lengthAdjust="spacingAndGlyphs" xml:space="preserve">CORDILLERA</text>
<text x="1307.6" y="1416.7" font-size="26.0" textLength="131.0" lengthAdjust="spacingAndGlyphs" xml:space="preserve">CAAGUAZÚ</text>
<text x="1461.2" y="1473.8" font-size="26.0" textLength="57.1" lengthAdjust="spacingAndGlyphs" xml:space="preserve">ALTO</text>
<text x="1448.0" y="1517.9" font-size="26.0" textLength="94.0" lengthAdjust="spacingAndGlyphs" xml:space="preserve">PARANÁ</text>
<text x="1270.7" y="1508.3" font-size="26.0" textLength="90.5" lengthAdjust="spacingAndGlyphs" xml:space="preserve">GUAIRÁ</text>
<text x="1308.8" y="1578.8" font-size="26.0" textLength="106.0" lengthAdjust="spacingAndGlyphs" xml:space="preserve">CAAZAPÁ</text>
<text x="1121.7" y="1597.0" font-size="20.5" textLength="117.8" lengthAdjust="spacingAndGlyphs" xml:space="preserve">PARAGUARÍ</text>
<text x="1140.7" y="1693.0" font-size="26.0" textLength="115.5" lengthAdjust="spacingAndGlyphs" xml:space="preserve">MISIONES</text>
<text x="999.0" y="1747.9" font-size="26.0" textLength="137.0" lengthAdjust="spacingAndGlyphs" xml:space="preserve">ÑEEMBUCÚ</text>
<text x="1369.5" y="1693.0" font-size="26.0" textLength="83.4" lengthAdjust="spacingAndGlyphs" xml:space="preserve">ITAPÚA</text>
<text transform="translate(1131.1 1523.9) rotate(-67.5)" font-size="26" textLength="108.5" lengthAdjust="spacingAndGlyphs">CENTRAL</text>
</g>
<rect x="336.6" y="316.4" width="1311.2" height="1569.4" fill="none" stroke="#000" stroke-width="5.6"/>
<g stroke="#333" stroke-width="2.6" filter="url(#b2)">
<line x1="327" y1="316.4" x2="335" y2="316.4"/>
<line x1="336.6" y1="1888" x2="336.6" y2="1897.5"/>
<line x1="327" y1="490.8" x2="335" y2="490.8"/>
<line x1="482.3" y1="1888" x2="482.3" y2="1897.5"/>
<line x1="327" y1="665.2" x2="335" y2="665.2"/>
<line x1="628.0" y1="1888" x2="628.0" y2="1897.5"/>
<line x1="327" y1="839.5" x2="335" y2="839.5"/>
<line x1="773.7" y1="1888" x2="773.7" y2="1897.5"/>
<line x1="327" y1="1013.9" x2="335" y2="1013.9"/>
<line x1="919.4" y1="1888" x2="919.4" y2="1897.5"/>
<line x1="327" y1="1188.3" x2="335" y2="1188.3"/>
<line x1="1065.0" y1="1888" x2="1065.0" y2="1897.5"/>
<line x1="327" y1="1362.7" x2="335" y2="1362.7"/>
<line x1="1210.7" y1="1888" x2="1210.7" y2="1897.5"/>
<line x1="327" y1="1537.0" x2="335" y2="1537.0"/>
<line x1="1356.4" y1="1888" x2="1356.4" y2="1897.5"/>
<line x1="327" y1="1711.4" x2="335" y2="1711.4"/>
<line x1="1502.1" y1="1888" x2="1502.1" y2="1897.5"/>
<line x1="327" y1="1885.8" x2="335" y2="1885.8"/>
<line x1="1647.8" y1="1888" x2="1647.8" y2="1897.5"/>
</g>
<g fill="#222" stroke="#222" stroke-width="0.5" font-size="39" filter="url(#b2)">
<text x="260.5" y="331.7" textLength="58" lengthAdjust="spacingAndGlyphs">19S</text>
<text x="305.6" y="1930" textLength="65.5" lengthAdjust="spacingAndGlyphs">63W</text>
<text x="260.5" y="506.1" textLength="58" lengthAdjust="spacingAndGlyphs">20S</text>
<text x="451.3" y="1930" textLength="65.5" lengthAdjust="spacingAndGlyphs">62W</text>
<text x="260.5" y="680.5" textLength="58" lengthAdjust="spacingAndGlyphs">21S</text>
<text x="597.0" y="1930" textLength="65.5" lengthAdjust="spacingAndGlyphs">61W</text>
<text x="260.5" y="854.8" textLength="58" lengthAdjust="spacingAndGlyphs">22S</text>
<text x="742.7" y="1930" textLength="65.5" lengthAdjust="spacingAndGlyphs">60W</text>
<text x="260.5" y="1029.2" textLength="58" lengthAdjust="spacingAndGlyphs">23S</text>
<text x="888.4" y="1930" textLength="65.5" lengthAdjust="spacingAndGlyphs">59W</text>
<text x="260.5" y="1203.6" textLength="58" lengthAdjust="spacingAndGlyphs">24S</text>
<text x="1034.0" y="1930" textLength="65.5" lengthAdjust="spacingAndGlyphs">58W</text>
<text x="260.5" y="1378.0" textLength="58" lengthAdjust="spacingAndGlyphs">25S</text>
<text x="1179.7" y="1930" textLength="65.5" lengthAdjust="spacingAndGlyphs">57W</text>
<text x="260.5" y="1552.3" textLength="58" lengthAdjust="spacingAndGlyphs">26S</text>
<text x="1325.4" y="1930" textLength="65.5" lengthAdjust="spacingAndGlyphs">56W</text>
<text x="260.5" y="1726.7" textLength="58" lengthAdjust="spacingAndGlyphs">27S</text>
<text x="1471.1" y="1930" textLength="65.5" lengthAdjust="spacingAndGlyphs">55W</text>
<text x="260.5" y="1901.1" textLength="58" lengthAdjust="spacingAndGlyphs">28S</text>
<text x="1616.8" y="1930" textLength="65.5" lengthAdjust="spacingAndGlyphs">54W</text>
</g>
<g id="legend">
<text x="1822.5" y="581.3" font-size="65" fill="#000" textLength="470" lengthAdjust="spacingAndGlyphs">milímetros (mm)</text>
<g filter="url(#b2)">
<path d="M1915.2 710 L1938.8 598 L1962 710Z" fill="#8200dc" stroke="#3a2a50" stroke-width="2.6" stroke-linejoin="round"/>
<rect x="1915.2" y="710" width="46.8" height="112" fill="#1e3cff"/>
<rect x="1915.2" y="822" width="46.8" height="112" fill="#00a0ff"/>
<rect x="1915.2" y="934" width="46.8" height="112" fill="#00c8c8"/>
<rect x="1915.2" y="1046" width="46.8" height="112" fill="#00dc00"/>
<rect x="1915.2" y="1158" width="46.8" height="112" fill="#a0e632"/>
<rect x="1915.2" y="1270" width="46.8" height="112" fill="#e6af2d"/>
<rect x="1915.2" y="1382" width="46.8" height="113" fill="#e6dc32"/>
<path d="M1915.2 1495 L1938.8 1606 L1962 1495Z" fill="#fefefe" stroke="#444" stroke-width="2.6" stroke-linejoin="round"/>
<path d="M1915.2 710V1495 M1962 710V1495 M1915.2 710H1962 M1915.2 822H1962 M1915.2 934H1962 M1915.2 1046H1962 M1915.2 1158H1962 M1915.2 1270H1962 M1915.2 1382H1962 M1915.2 1495H1962" fill="none" stroke="#1c1c1c" stroke-width="3"/>
</g>
<g fill="#2a2a2a" stroke="#2a2a2a" stroke-width="0.4" font-size="45.5" filter="url(#b2)">
<text x="1973.5" y="728" textLength="77.5" lengthAdjust="spacingAndGlyphs">200</text>
<text x="1973.5" y="840" textLength="77.5" lengthAdjust="spacingAndGlyphs">150</text>
<text x="1973.5" y="952" textLength="77.5" lengthAdjust="spacingAndGlyphs">100</text>
<text x="1973.5" y="1064" textLength="50" lengthAdjust="spacingAndGlyphs">75</text>
<text x="1973.5" y="1176" textLength="50" lengthAdjust="spacingAndGlyphs">50</text>
<text x="1973.5" y="1288" textLength="50" lengthAdjust="spacingAndGlyphs">25</text>
<text x="1973.5" y="1400" textLength="50" lengthAdjust="spacingAndGlyphs">10</text>
<text x="1973.5" y="1512" textLength="24" lengthAdjust="spacingAndGlyphs">0</text>
</g>
</g>

</svg></body></html>
